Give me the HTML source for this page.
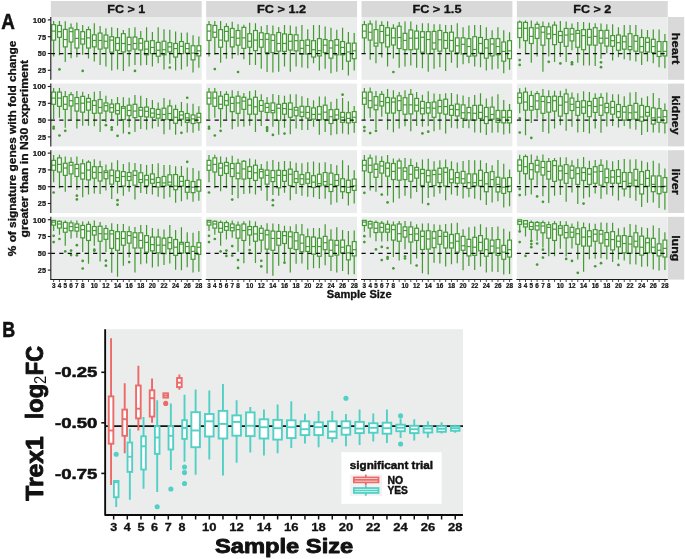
<!DOCTYPE html>
<html><head><meta charset="utf-8"><title>Figure</title>
<style>html,body{margin:0;padding:0;background:#fff;}body{width:685px;height:559px;overflow:hidden;font-family:"Liberation Sans", sans-serif;}svg{display:block;will-change:transform;transform:translateZ(0);}</style>
</head><body>
<svg width="685" height="559" viewBox="0 0 685 559" font-family='"Liberation Sans", sans-serif' fill="#111">
<style>text{stroke:#111;stroke-width:0.3px;stroke-linejoin:round;paint-order:stroke}.t2{stroke-width:0.55px}.t3{stroke-width:0.9px}.t0{stroke-width:0.22px}.t1{stroke-width:0.42px}.tn{stroke-width:0}</style>
<rect x="50.8" y="1.0" width="150.9" height="16" fill="#d9d9d9"/>
<text x="126.25" y="12.7" text-anchor="middle" font-size="10.6" font-weight="bold" textLength="37.9" lengthAdjust="spacingAndGlyphs">FC &gt; 1</text>
<rect x="206.15" y="1.0" width="150.9" height="16" fill="#d9d9d9"/>
<text x="281.6" y="12.7" text-anchor="middle" font-size="10.6" font-weight="bold" textLength="49.0" lengthAdjust="spacingAndGlyphs">FC &gt; 1.2</text>
<rect x="361.5" y="1.0" width="150.9" height="16" fill="#d9d9d9"/>
<text x="436.95" y="12.7" text-anchor="middle" font-size="10.6" font-weight="bold" textLength="49.0" lengthAdjust="spacingAndGlyphs">FC &gt; 1.5</text>
<rect x="516.85" y="1.0" width="150.9" height="16" fill="#d9d9d9"/>
<text x="592.3" y="12.7" text-anchor="middle" font-size="10.6" font-weight="bold" textLength="37.9" lengthAdjust="spacingAndGlyphs">FC &gt; 2</text>
<rect x="668.0" y="17" width="16.2" height="62.8" fill="#d9d9d9"/>
<text transform="translate(672.0,48.4) rotate(90)" text-anchor="middle" font-size="10.6" font-weight="bold" textLength="31.7" lengthAdjust="spacingAndGlyphs">heart</text>
<rect x="50.8" y="17" width="150.9" height="62.8" fill="#ebecec"/>
<rect x="206.15" y="17" width="150.9" height="62.8" fill="#ebecec"/>
<rect x="361.5" y="17" width="150.9" height="62.8" fill="#ebecec"/>
<rect x="516.85" y="17" width="150.9" height="62.8" fill="#ebecec"/>
<rect x="668.0" y="83.6" width="16.2" height="62.8" fill="#d9d9d9"/>
<text transform="translate(672.0,115) rotate(90)" text-anchor="middle" font-size="10.6" font-weight="bold" textLength="39.2" lengthAdjust="spacingAndGlyphs">kidney</text>
<rect x="50.8" y="83.6" width="150.9" height="62.8" fill="#ebecec"/>
<rect x="206.15" y="83.6" width="150.9" height="62.8" fill="#ebecec"/>
<rect x="361.5" y="83.6" width="150.9" height="62.8" fill="#ebecec"/>
<rect x="516.85" y="83.6" width="150.9" height="62.8" fill="#ebecec"/>
<rect x="668.0" y="150.2" width="16.2" height="62.8" fill="#d9d9d9"/>
<text transform="translate(672.0,181.6) rotate(90)" text-anchor="middle" font-size="10.6" font-weight="bold" textLength="26.2" lengthAdjust="spacingAndGlyphs">liver</text>
<rect x="50.8" y="150.2" width="150.9" height="62.8" fill="#ebecec"/>
<rect x="206.15" y="150.2" width="150.9" height="62.8" fill="#ebecec"/>
<rect x="361.5" y="150.2" width="150.9" height="62.8" fill="#ebecec"/>
<rect x="516.85" y="150.2" width="150.9" height="62.8" fill="#ebecec"/>
<rect x="668.0" y="216.8" width="16.2" height="62.8" fill="#d9d9d9"/>
<text transform="translate(672.0,248.2) rotate(90)" text-anchor="middle" font-size="10.6" font-weight="bold" textLength="26.0" lengthAdjust="spacingAndGlyphs">lung</text>
<rect x="50.8" y="216.8" width="150.9" height="62.8" fill="#ebecec"/>
<rect x="206.15" y="216.8" width="150.9" height="62.8" fill="#ebecec"/>
<rect x="361.5" y="216.8" width="150.9" height="62.8" fill="#ebecec"/>
<rect x="516.85" y="216.8" width="150.9" height="62.8" fill="#ebecec"/>
<g stroke="#429a32" stroke-width="1.2" fill="none"><path d="M53.65 20.95V24.67M53.65 40.11V56.46"/><rect x="51.75" y="24.67" width="3.8" height="15.45" fill="#fff"/><path d="M51.75 31.09H55.55"/><path d="M59.46 20.95V25.46M59.46 37.29V55.33"/><rect x="57.56" y="25.46" width="3.8" height="11.84" fill="#fff"/><path d="M57.56 31.66H61.36"/><path d="M65.27 21.28V29.4M65.27 46.88V62.1"/><rect x="63.37" y="29.4" width="3.8" height="17.47" fill="#fff"/><path d="M63.37 39.55H67.17"/><path d="M71.07 23.54V28.05M71.07 42.03V58.15"/><rect x="69.17" y="28.05" width="3.8" height="13.98" fill="#fff"/><path d="M69.17 31.66H72.97"/><path d="M76.88 22.41V29.63M76.88 48V57.36"/><rect x="74.98" y="29.63" width="3.8" height="18.38" fill="#fff"/><path d="M74.98 38.42H78.78"/><path d="M82.69 24.89V31.66M82.69 44.06V54.77"/><rect x="80.79" y="31.66" width="3.8" height="12.4" fill="#fff"/><path d="M80.79 38.98H84.59"/><path d="M88.5 26.58V29.63M88.5 48V58.49"/><rect x="86.6" y="29.63" width="3.8" height="18.38" fill="#fff"/><path d="M86.6 37.86H90.4"/><path d="M94.31 23.2V34.81M94.31 46.88V61.53"/><rect x="92.41" y="34.81" width="3.8" height="12.06" fill="#fff"/><path d="M92.41 40.45H96.21"/><path d="M100.11 26.02V33.12M100.11 49.13V64.91"/><rect x="98.21" y="33.12" width="3.8" height="16.01" fill="#fff"/><path d="M98.21 40.45H102.01"/><path d="M105.92 28.27V35.04M105.92 48V66.61"/><rect x="104.02" y="35.04" width="3.8" height="12.97" fill="#fff"/><path d="M104.02 41.24H107.82"/><path d="M111.73 27.37V36.73M111.73 52.17V70.55"/><rect x="109.83" y="36.73" width="3.8" height="15.45" fill="#fff"/><path d="M109.83 40.11H113.63"/><path d="M117.54 28.05V37.63M117.54 50.26V69.42"/><rect x="115.64" y="37.63" width="3.8" height="12.63" fill="#fff"/><path d="M115.64 43.49H119.44"/><path d="M123.35 29.97V33.69M123.35 51.95V71.11"/><rect x="121.45" y="33.69" width="3.8" height="18.26" fill="#fff"/><path d="M121.45 43.49H125.25"/><path d="M129.15 28.05V37.29M129.15 50.82V66.61"/><rect x="127.25" y="37.29" width="3.8" height="13.53" fill="#fff"/><path d="M127.25 44.62H131.05"/><path d="M134.96 27.37V37.07M134.96 49.13V64.91"/><rect x="133.06" y="37.07" width="3.8" height="12.06" fill="#fff"/><path d="M133.06 43.49H136.86"/><path d="M140.77 31.09V38.65M140.77 50.03V65.48"/><rect x="138.87" y="38.65" width="3.8" height="11.39" fill="#fff"/><path d="M138.87 43.16H142.67"/><path d="M146.58 27.15V41.24M146.58 54.77V64.91"/><rect x="144.68" y="41.24" width="3.8" height="13.53" fill="#fff"/><path d="M144.68 49.13H148.48"/><path d="M152.39 31.88V40.68M152.39 53.64V66.61"/><rect x="150.49" y="40.68" width="3.8" height="12.97" fill="#fff"/><path d="M150.49 47.44H154.29"/><path d="M158.19 27.37V42.37M158.19 56.23V63.22"/><rect x="156.29" y="42.37" width="3.8" height="13.87" fill="#fff"/><path d="M156.29 50.26H160.09"/><path d="M164 29.18V41.24M164 54.77V69.42"/><rect x="162.1" y="41.24" width="3.8" height="13.53" fill="#fff"/><path d="M162.1 49.69H165.9"/><path d="M169.81 29.63V42.7M169.81 51.95V63.79"/><rect x="167.91" y="42.7" width="3.8" height="9.24" fill="#fff"/><path d="M167.91 46.88H171.71"/><path d="M175.62 31.43V43.49M175.62 57.02V70.55"/><rect x="173.72" y="43.49" width="3.8" height="13.53" fill="#fff"/><path d="M173.72 48.57H177.52"/><path d="M181.43 32.78V41.58M181.43 53.64V69.42"/><rect x="179.53" y="41.58" width="3.8" height="12.06" fill="#fff"/><path d="M179.53 46.31H183.33"/><path d="M187.23 32.56V43.49M187.23 53.08V66.61"/><rect x="185.33" y="43.49" width="3.8" height="9.58" fill="#fff"/><path d="M185.33 48.57H189.13"/><path d="M193.04 35.26V45.75M193.04 59.84V72.47"/><rect x="191.14" y="45.75" width="3.8" height="14.09" fill="#fff"/><path d="M191.14 53.08H194.94"/><path d="M198.85 36.39V45.75M198.85 55.9V67.73"/><rect x="196.95" y="45.75" width="3.8" height="10.15" fill="#fff"/><path d="M196.95 50.82H200.75"/></g>
<g fill="#429a32"><circle cx="59.46" cy="69.42" r="1.35"/><circle cx="82.69" cy="70.89" r="1.35"/><circle cx="134.96" cy="70.89" r="1.35"/><circle cx="169.81" cy="67.51" r="1.35"/></g>
<path d="M50.8 53.5H201.7" stroke="#0c0c0c" stroke-width="1.25" stroke-dasharray="4.2 4.25" fill="none"/>
<g stroke="#429a32" stroke-width="1.2" fill="none"><path d="M209 20.95V24.67M209 40.45V56.46"/><rect x="207.1" y="24.67" width="3.8" height="15.78" fill="#fff"/><path d="M207.1 31.09H210.9"/><path d="M214.81 20.95V25.46M214.81 37.29V54.77"/><rect x="212.91" y="25.46" width="3.8" height="11.84" fill="#fff"/><path d="M212.91 32.22H216.71"/><path d="M220.62 20.95V29.63M220.62 47.21V62.66"/><rect x="218.72" y="29.63" width="3.8" height="17.59" fill="#fff"/><path d="M218.72 40.11H222.52"/><path d="M226.42 23.2V26.58M226.42 41.01V58.71"/><rect x="224.52" y="26.58" width="3.8" height="14.43" fill="#fff"/><path d="M224.52 31.43H228.32"/><path d="M232.23 21.74V28.5M232.23 46.88V58.71"/><rect x="230.33" y="28.5" width="3.8" height="18.38" fill="#fff"/><path d="M230.33 37.29H234.13"/><path d="M238.04 24.33V30.53M238.04 45.18V55.33"/><rect x="236.14" y="30.53" width="3.8" height="14.66" fill="#fff"/><path d="M236.14 38.2H239.94"/><path d="M243.85 24.67V27.37M243.85 48.34V59.28"/><rect x="241.95" y="27.37" width="3.8" height="20.97" fill="#fff"/><path d="M241.95 37.86H245.75"/><path d="M249.66 22.64V33.69M249.66 47.21V64.91"/><rect x="247.76" y="33.69" width="3.8" height="13.53" fill="#fff"/><path d="M247.76 41.24H251.56"/><path d="M255.46 23.2V30.53M255.46 50.6V64.91"/><rect x="253.56" y="30.53" width="3.8" height="20.07" fill="#fff"/><path d="M253.56 40.11H257.36"/><path d="M261.27 26.24V32.78M261.27 47.21V68.86"/><rect x="259.37" y="32.78" width="3.8" height="14.43" fill="#fff"/><path d="M259.37 39.55H263.17"/><path d="M267.08 25.12V33.69M267.08 52.51V72.02"/><rect x="265.18" y="33.69" width="3.8" height="18.83" fill="#fff"/><path d="M265.18 39.32H268.98"/><path d="M272.89 25.46V34.81M272.89 52.51V72.47"/><rect x="270.99" y="34.81" width="3.8" height="17.7" fill="#fff"/><path d="M270.99 40.45H274.79"/><path d="M278.7 26.92V32.56M278.7 51.16V71.68"/><rect x="276.8" y="32.56" width="3.8" height="18.6" fill="#fff"/><path d="M276.8 43.49H280.6"/><path d="M284.5 25.12V33.91M284.5 51.39V66.61"/><rect x="282.6" y="33.91" width="3.8" height="17.47" fill="#fff"/><path d="M282.6 43.49H286.4"/><path d="M290.31 25.46V34.47M290.31 50.03V71.68"/><rect x="288.41" y="34.47" width="3.8" height="15.56" fill="#fff"/><path d="M288.41 41.24H292.21"/><path d="M296.12 26.58V34.81M296.12 50.82V66.61"/><rect x="294.22" y="34.81" width="3.8" height="16.01" fill="#fff"/><path d="M294.22 40.68H298.02"/><path d="M301.93 24.89V40.45M301.93 54.2V67.51"/><rect x="300.03" y="40.45" width="3.8" height="13.75" fill="#fff"/><path d="M300.03 48.34H303.83"/><path d="M307.74 29.18V39.89M307.74 53.98V68.3"/><rect x="305.84" y="39.89" width="3.8" height="14.09" fill="#fff"/><path d="M305.84 45.41H309.64"/><path d="M313.54 25.12V40.68M313.54 57.02V63.22"/><rect x="311.64" y="40.68" width="3.8" height="16.35" fill="#fff"/><path d="M311.64 49.69H315.44"/><path d="M319.35 25.12V38.65M319.35 55.9V70.55"/><rect x="317.45" y="38.65" width="3.8" height="17.25" fill="#fff"/><path d="M317.45 50.6H321.25"/><path d="M325.16 26.58V39.55M325.16 52.51V68.86"/><rect x="323.26" y="39.55" width="3.8" height="12.97" fill="#fff"/><path d="M323.26 45.18H327.06"/><path d="M330.97 27.71V40.68M330.97 58.15V73.37"/><rect x="329.07" y="40.68" width="3.8" height="17.47" fill="#fff"/><path d="M329.07 48H332.87"/><path d="M336.78 29.63V39.55M336.78 54.77V71.68"/><rect x="334.88" y="39.55" width="3.8" height="15.22" fill="#fff"/><path d="M334.88 45.18H338.68"/><path d="M342.58 27.71V41.58M342.58 54.77V69.99"/><rect x="340.68" y="41.58" width="3.8" height="13.19" fill="#fff"/><path d="M340.68 47.44H344.48"/><path d="M348.39 31.88V43.16M348.39 61.19V75.62"/><rect x="346.49" y="43.16" width="3.8" height="18.04" fill="#fff"/><path d="M346.49 51.95H350.29"/><path d="M354.2 33.01V43.16M354.2 58.71V70.55"/><rect x="352.3" y="43.16" width="3.8" height="15.56" fill="#fff"/><path d="M352.3 50.82H356.1"/></g>
<g fill="#429a32"><circle cx="214.81" cy="69.09" r="1.35"/><circle cx="238.04" cy="72.02" r="1.35"/></g>
<path d="M206.15 53.5H357.05" stroke="#0c0c0c" stroke-width="1.25" stroke-dasharray="4.2 4.25" fill="none"/>
<g stroke="#429a32" stroke-width="1.2" fill="none"><path d="M364.35 20.95V24.67M364.35 37.86V53.08"/><rect x="362.45" y="24.67" width="3.8" height="13.19" fill="#fff"/><path d="M362.45 31.09H366.25"/><path d="M370.16 20.61V23.99M370.16 40.11V59.84"/><rect x="368.26" y="23.99" width="3.8" height="16.12" fill="#fff"/><path d="M368.26 32.22H372.06"/><path d="M375.97 20.38V29.63M375.97 46.09V63.22"/><rect x="374.07" y="29.63" width="3.8" height="16.46" fill="#fff"/><path d="M374.07 43.16H377.87"/><path d="M381.77 21.28V25.46M381.77 42.7V57.59"/><rect x="379.87" y="25.46" width="3.8" height="17.25" fill="#fff"/><path d="M379.87 31.43H383.67"/><path d="M387.58 21.28V27.71M387.58 46.88V66.61"/><rect x="385.68" y="27.71" width="3.8" height="19.17" fill="#fff"/><path d="M385.68 35.26H389.48"/><path d="M393.39 24.33V28.27M393.39 44.96V58.49"/><rect x="391.49" y="28.27" width="3.8" height="16.69" fill="#fff"/><path d="M391.49 37.86H395.29"/><path d="M399.2 22.07V26.24M399.2 48.57V67.73"/><rect x="397.3" y="26.24" width="3.8" height="22.32" fill="#fff"/><path d="M397.3 37.52H401.1"/><path d="M405.01 21.51V33.35M405.01 49.69V66.38"/><rect x="403.11" y="33.35" width="3.8" height="16.35" fill="#fff"/><path d="M403.11 40.45H406.91"/><path d="M410.81 21.51V29.97M410.81 49.69V65.48"/><rect x="408.91" y="29.97" width="3.8" height="19.73" fill="#fff"/><path d="M408.91 38.2H412.71"/><path d="M416.62 24.67V31.09M416.62 49.13V67.73"/><rect x="414.72" y="31.09" width="3.8" height="18.04" fill="#fff"/><path d="M414.72 38.2H418.52"/><path d="M422.43 23.2V31.66M422.43 52.17V68.3"/><rect x="420.53" y="31.66" width="3.8" height="20.52" fill="#fff"/><path d="M420.53 37.29H424.33"/><path d="M428.24 23.2V31.66M428.24 53.64V71.68"/><rect x="426.34" y="31.66" width="3.8" height="21.98" fill="#fff"/><path d="M426.34 39.55H430.14"/><path d="M434.05 24.33V31.43M434.05 49.13V68.86"/><rect x="432.15" y="31.43" width="3.8" height="17.7" fill="#fff"/><path d="M432.15 42.93H435.95"/><path d="M439.85 24.33V30.53M439.85 51.16V67.17"/><rect x="437.95" y="30.53" width="3.8" height="20.63" fill="#fff"/><path d="M437.95 39.77H441.75"/><path d="M445.66 24.89V32.56M445.66 48.34V70.89"/><rect x="443.76" y="32.56" width="3.8" height="15.78" fill="#fff"/><path d="M443.76 40.45H447.56"/><path d="M451.47 25.12V32.22M451.47 51.16V62.66"/><rect x="449.57" y="32.22" width="3.8" height="18.94" fill="#fff"/><path d="M449.57 40.45H453.37"/><path d="M457.28 23.2V37.86M457.28 52.85V67.73"/><rect x="455.38" y="37.86" width="3.8" height="14.99" fill="#fff"/><path d="M455.38 45.75H459.18"/><path d="M463.09 27.37V37.86M463.09 53.98V64.13"/><rect x="461.19" y="37.86" width="3.8" height="16.12" fill="#fff"/><path d="M461.19 44.28H464.99"/><path d="M468.89 25.46V38.65M468.89 56.23V63.22"/><rect x="466.99" y="38.65" width="3.8" height="17.59" fill="#fff"/><path d="M466.99 46.54H470.79"/><path d="M474.7 24.89V36.73M474.7 55.9V66.61"/><rect x="472.8" y="36.73" width="3.8" height="19.17" fill="#fff"/><path d="M472.8 49.47H476.6"/><path d="M480.51 25.12V37.52M480.51 53.08V67.17"/><rect x="478.61" y="37.52" width="3.8" height="15.56" fill="#fff"/><path d="M478.61 43.49H482.41"/><path d="M486.32 27.37V39.55M486.32 58.15V70.55"/><rect x="484.42" y="39.55" width="3.8" height="18.6" fill="#fff"/><path d="M484.42 48H488.22"/><path d="M492.13 30.3V38.65M492.13 55.9V69.42"/><rect x="490.23" y="38.65" width="3.8" height="17.25" fill="#fff"/><path d="M490.23 44.06H494.03"/><path d="M497.93 27.15V38.65M497.93 54.77V68.86"/><rect x="496.03" y="38.65" width="3.8" height="16.12" fill="#fff"/><path d="M496.03 46.54H499.83"/><path d="M503.74 30.3V42.03M503.74 61.19V73.37"/><rect x="501.84" y="42.03" width="3.8" height="19.17" fill="#fff"/><path d="M501.84 51.39H505.64"/><path d="M509.55 32.22V40.68M509.55 58.71V69.76"/><rect x="507.65" y="40.68" width="3.8" height="18.04" fill="#fff"/><path d="M507.65 50.82H511.45"/></g>
<g fill="#429a32"><circle cx="393.39" cy="72.02" r="1.35"/></g>
<path d="M361.5 53.5H512.4" stroke="#0c0c0c" stroke-width="1.25" stroke-dasharray="4.2 4.25" fill="none"/>
<g stroke="#429a32" stroke-width="1.2" fill="none"><path d="M519.7 20.38V22.07M519.7 37.52V48.57"/><rect x="517.8" y="22.07" width="3.8" height="15.45" fill="#fff"/><path d="M517.8 28.27H521.6"/><path d="M525.51 20.38V22.41M525.51 40.68V54.2"/><rect x="523.61" y="22.41" width="3.8" height="18.26" fill="#fff"/><path d="M523.61 28.27H527.41"/><path d="M531.32 20.38V27.71M531.32 43.49V62.66"/><rect x="529.42" y="27.71" width="3.8" height="15.78" fill="#fff"/><path d="M529.42 36.39H533.22"/><path d="M537.12 21.51V24.33M537.12 38.42V56.46"/><rect x="535.22" y="24.33" width="3.8" height="14.09" fill="#fff"/><path d="M535.22 28.05H539.02"/><path d="M542.93 21.51V26.58M542.93 45.18V71.68"/><rect x="541.03" y="26.58" width="3.8" height="18.6" fill="#fff"/><path d="M541.03 32.22H544.83"/><path d="M548.74 22.41V26.92M548.74 38.65V56.46"/><rect x="546.84" y="26.92" width="3.8" height="11.72" fill="#fff"/><path d="M546.84 33.91H550.64"/><path d="M554.55 21.51V25.12M554.55 44.62V62.1"/><rect x="552.65" y="25.12" width="3.8" height="19.5" fill="#fff"/><path d="M552.65 34.47H556.45"/><path d="M560.36 20.95V31.43M560.36 42.37V57.02"/><rect x="558.46" y="31.43" width="3.8" height="10.94" fill="#fff"/><path d="M558.46 35.6H562.26"/><path d="M566.16 21.51V28.5M566.16 46.31V62.1"/><rect x="564.26" y="28.5" width="3.8" height="17.81" fill="#fff"/><path d="M564.26 35.04H568.06"/><path d="M571.97 23.54V28.5M571.97 40.9V50.26"/><rect x="570.07" y="28.5" width="3.8" height="12.4" fill="#fff"/><path d="M570.07 34.14H573.87"/><path d="M577.78 22.07V30.53M577.78 47.21V62.66"/><rect x="575.88" y="30.53" width="3.8" height="16.69" fill="#fff"/><path d="M575.88 33.35H579.68"/><path d="M583.59 22.07V29.63M583.59 49.69V65.48"/><rect x="581.69" y="29.63" width="3.8" height="20.07" fill="#fff"/><path d="M581.69 35.6H585.49"/><path d="M589.4 22.64V29.4M589.4 44.96V65.48"/><rect x="587.5" y="29.4" width="3.8" height="15.56" fill="#fff"/><path d="M587.5 37.29H591.3"/><path d="M595.2 23.2V27.71M595.2 45.18V66.04"/><rect x="593.3" y="27.71" width="3.8" height="17.47" fill="#fff"/><path d="M593.3 36.39H597.1"/><path d="M601.01 23.54V30.53M601.01 43.16V58.71"/><rect x="599.11" y="30.53" width="3.8" height="12.63" fill="#fff"/><path d="M599.11 38.2H602.91"/><path d="M606.82 24.33V30.3M606.82 46.09V53.3"/><rect x="604.92" y="30.3" width="3.8" height="15.78" fill="#fff"/><path d="M604.92 38.2H608.72"/><path d="M612.63 24.33V35.6M612.63 46.31V60.4"/><rect x="610.73" y="35.6" width="3.8" height="10.71" fill="#fff"/><path d="M610.73 40.68H614.53"/><path d="M618.44 27.15V35.04M618.44 50.26V57.36"/><rect x="616.54" y="35.04" width="3.8" height="15.22" fill="#fff"/><path d="M616.54 42.7H620.34"/><path d="M624.24 24.89V36.17M624.24 49.13V59.28"/><rect x="622.34" y="36.17" width="3.8" height="12.97" fill="#fff"/><path d="M622.34 41.8H626.14"/><path d="M630.05 25.12V33.69M630.05 49.69V60.4"/><rect x="628.15" y="33.69" width="3.8" height="16.01" fill="#fff"/><path d="M628.15 46.54H631.95"/><path d="M635.86 25.12V35.6M635.86 51.16V61.53"/><rect x="633.96" y="35.6" width="3.8" height="15.56" fill="#fff"/><path d="M633.96 41.24H637.76"/><path d="M641.67 29.18V37.52M641.67 52.17V64.91"/><rect x="639.77" y="37.52" width="3.8" height="14.66" fill="#fff"/><path d="M639.77 46.54H643.57"/><path d="M647.48 29.97V37.86M647.48 51.95V61.53"/><rect x="645.58" y="37.86" width="3.8" height="14.09" fill="#fff"/><path d="M645.58 42.37H649.38"/><path d="M653.28 29.4V39.32M653.28 52.51V63.22"/><rect x="651.38" y="39.32" width="3.8" height="13.19" fill="#fff"/><path d="M651.38 46.54H655.18"/><path d="M659.09 29.4V41.58M659.09 56.46V67.17"/><rect x="657.19" y="41.58" width="3.8" height="14.88" fill="#fff"/><path d="M657.19 51.39H660.99"/><path d="M664.9 33.91V41.58M664.9 55.9V68.3"/><rect x="663" y="41.58" width="3.8" height="14.32" fill="#fff"/><path d="M663 51.39H666.8"/></g>
<g fill="#429a32"><circle cx="519.7" cy="60.07" r="1.35"/><circle cx="519.7" cy="64.91" r="1.35"/><circle cx="548.74" cy="61.87" r="1.35"/><circle cx="560.36" cy="63.45" r="1.35"/><circle cx="571.97" cy="62.32" r="1.35"/><circle cx="571.97" cy="64.13" r="1.35"/><circle cx="601.01" cy="62.32" r="1.35"/><circle cx="601.01" cy="67.17" r="1.35"/></g>
<path d="M516.85 53.5H667.75" stroke="#0c0c0c" stroke-width="1.25" stroke-dasharray="4.2 4.25" fill="none"/>
<g stroke="#429a32" stroke-width="1.2" fill="none"><path d="M53.65 87.95V92.12M53.65 104.29V118.95"/><rect x="51.75" y="92.12" width="3.8" height="12.18" fill="#fff"/><path d="M51.75 98.09H55.55"/><path d="M59.46 87.95V92.12M59.46 106.32V117.82"/><rect x="57.56" y="92.12" width="3.8" height="14.21" fill="#fff"/><path d="M57.56 98.09H61.36"/><path d="M65.27 90.99V96.63M65.27 109.37V127.74"/><rect x="63.37" y="96.63" width="3.8" height="12.74" fill="#fff"/><path d="M63.37 104.29H67.17"/><path d="M71.07 91.89V94.71M71.07 105.98V119.51"/><rect x="69.17" y="94.71" width="3.8" height="11.27" fill="#fff"/><path d="M69.17 100.69H72.97"/><path d="M76.88 90.99V97.53M76.88 111.06V128.53"/><rect x="74.98" y="97.53" width="3.8" height="13.53" fill="#fff"/><path d="M74.98 103.73H78.78"/><path d="M82.69 91.67V96.4M82.69 112.18V125.71"/><rect x="80.79" y="96.4" width="3.8" height="15.78" fill="#fff"/><path d="M80.79 103.17H84.59"/><path d="M88.5 93.92V98.43M88.5 110.16V125.71"/><rect x="86.6" y="98.43" width="3.8" height="11.72" fill="#fff"/><path d="M86.6 102.04H90.4"/><path d="M94.31 91.67V100.69M94.31 113.31V126.28"/><rect x="92.41" y="100.69" width="3.8" height="12.63" fill="#fff"/><path d="M92.41 105.42H96.21"/><path d="M100.11 90.99V99.56M100.11 113.09V131.91"/><rect x="98.21" y="99.56" width="3.8" height="13.53" fill="#fff"/><path d="M98.21 107.45H102.01"/><path d="M105.92 95.84V102.94M105.92 111.06V122.33"/><rect x="104.02" y="102.94" width="3.8" height="8.12" fill="#fff"/><path d="M104.02 105.65H107.82"/><path d="M111.73 98.88V104.07M111.73 112.18V120.08"/><rect x="109.83" y="104.07" width="3.8" height="8.12" fill="#fff"/><path d="M109.83 107.68H113.63"/><path d="M117.54 96.97V103.73M117.54 113.88V125.71"/><rect x="115.64" y="103.73" width="3.8" height="10.15" fill="#fff"/><path d="M115.64 110.49H119.44"/><path d="M123.35 97.3V106.55M123.35 119.51V133.61"/><rect x="121.45" y="106.55" width="3.8" height="12.97" fill="#fff"/><path d="M121.45 108.24H125.25"/><path d="M129.15 97.75V105.2M129.15 115.57V127.4"/><rect x="127.25" y="105.2" width="3.8" height="10.37" fill="#fff"/><path d="M127.25 110.49H131.05"/><path d="M134.96 95.05V104.29M134.96 117.6V131.91"/><rect x="133.06" y="104.29" width="3.8" height="13.3" fill="#fff"/><path d="M133.06 111.06H136.86"/><path d="M140.77 95.84V107.45M140.77 116.47V129.1"/><rect x="138.87" y="107.45" width="3.8" height="9.02" fill="#fff"/><path d="M138.87 110.16H142.67"/><path d="M146.58 98.09V107.11M146.58 116.92V129.66"/><rect x="144.68" y="107.11" width="3.8" height="9.81" fill="#fff"/><path d="M144.68 111.28H148.48"/><path d="M152.39 100.01V108.58M152.39 117.26V128.53"/><rect x="150.49" y="108.58" width="3.8" height="8.68" fill="#fff"/><path d="M150.49 113.09H154.29"/><path d="M158.19 102.6V109.37M158.19 118.16V126.84"/><rect x="156.29" y="109.37" width="3.8" height="8.79" fill="#fff"/><path d="M156.29 114.44H160.09"/><path d="M164 98.09V108.24M164 119.51V134.17"/><rect x="162.1" y="108.24" width="3.8" height="11.27" fill="#fff"/><path d="M162.1 114.44H165.9"/><path d="M169.81 99.78V105.98M169.81 119.51V129.66"/><rect x="167.91" y="105.98" width="3.8" height="13.53" fill="#fff"/><path d="M167.91 113.54H171.71"/><path d="M175.62 104.86V109.37M175.62 123.23V134.73"/><rect x="173.72" y="109.37" width="3.8" height="13.87" fill="#fff"/><path d="M173.72 117.26H177.52"/><path d="M181.43 102.04V111.62M181.43 119.17V126.28"/><rect x="179.53" y="111.62" width="3.8" height="7.55" fill="#fff"/><path d="M179.53 115H183.33"/><path d="M187.23 103.17V113.54M187.23 122.33V132.48"/><rect x="185.33" y="113.54" width="3.8" height="8.79" fill="#fff"/><path d="M185.33 117.82H189.13"/><path d="M193.04 103.73V115M193.04 123.46V132.7"/><rect x="191.14" y="115" width="3.8" height="8.46" fill="#fff"/><path d="M191.14 118.95H194.94"/><path d="M198.85 106.32V113.31M198.85 122.67V130.79"/><rect x="196.95" y="113.31" width="3.8" height="9.36" fill="#fff"/><path d="M196.95 117.26H200.75"/></g>
<g fill="#429a32"><circle cx="53.65" cy="126.84" r="1.35"/><circle cx="53.65" cy="128.53" r="1.35"/><circle cx="59.46" cy="135.52" r="1.35"/><circle cx="65.27" cy="130.79" r="1.35"/><circle cx="105.92" cy="125.15" r="1.35"/><circle cx="111.73" cy="127.4" r="1.35"/><circle cx="111.73" cy="129.66" r="1.35"/><circle cx="117.54" cy="135.86" r="1.35"/><circle cx="129.15" cy="133.04" r="1.35"/><circle cx="181.43" cy="132.82" r="1.35"/><circle cx="187.23" cy="97.75" r="1.35"/></g>
<path d="M50.8 120.1H201.7" stroke="#0c0c0c" stroke-width="1.25" stroke-dasharray="4.2 4.25" fill="none"/>
<g stroke="#429a32" stroke-width="1.2" fill="none"><path d="M209 87.95V92.12M209 104.07V118.95"/><rect x="207.1" y="92.12" width="3.8" height="11.95" fill="#fff"/><path d="M207.1 98.09H210.9"/><path d="M214.81 87.95V92.12M214.81 106.32V117.82"/><rect x="212.91" y="92.12" width="3.8" height="14.21" fill="#fff"/><path d="M212.91 98.09H216.71"/><path d="M220.62 90.99V96.18M220.62 108.58V127.4"/><rect x="218.72" y="96.18" width="3.8" height="12.4" fill="#fff"/><path d="M218.72 104.29H222.52"/><path d="M226.42 91.33V94.37M226.42 105.2V119.51"/><rect x="224.52" y="94.37" width="3.8" height="10.82" fill="#fff"/><path d="M224.52 100.69H228.32"/><path d="M232.23 90.2V97.3M232.23 111.62V129.32"/><rect x="230.33" y="97.3" width="3.8" height="14.32" fill="#fff"/><path d="M230.33 103.39H234.13"/><path d="M238.04 90.99V96.18M238.04 113.31V126.84"/><rect x="236.14" y="96.18" width="3.8" height="17.14" fill="#fff"/><path d="M236.14 102.94H239.94"/><path d="M243.85 93.02V97.3M243.85 109.37V126.84"/><rect x="241.95" y="97.3" width="3.8" height="12.06" fill="#fff"/><path d="M241.95 101.14H245.75"/><path d="M249.66 90.99V99.22M249.66 114.21V125.71"/><rect x="247.76" y="99.22" width="3.8" height="14.99" fill="#fff"/><path d="M247.76 105.2H251.56"/><path d="M255.46 90.2V97.3M255.46 114.21V131.91"/><rect x="253.56" y="97.3" width="3.8" height="16.91" fill="#fff"/><path d="M253.56 106.77H257.36"/><path d="M261.27 94.15V100.69M261.27 111.28V125.94"/><rect x="259.37" y="100.69" width="3.8" height="10.6" fill="#fff"/><path d="M259.37 105.42H263.17"/><path d="M267.08 96.97V103.39M267.08 112.41V120.08"/><rect x="265.18" y="103.39" width="3.8" height="9.02" fill="#fff"/><path d="M265.18 107.45H268.98"/><path d="M272.89 93.92V102.94M272.89 112.75V126.84"/><rect x="270.99" y="102.94" width="3.8" height="9.81" fill="#fff"/><path d="M270.99 110.49H274.79"/><path d="M278.7 95.05V104.29M278.7 120.3V134.73"/><rect x="276.8" y="104.29" width="3.8" height="16.01" fill="#fff"/><path d="M276.8 108.24H280.6"/><path d="M284.5 95.84V103.39M284.5 114.21V127.74"/><rect x="282.6" y="103.39" width="3.8" height="10.82" fill="#fff"/><path d="M282.6 108.58H286.4"/><path d="M290.31 94.15V102.94M290.31 117.26V134.17"/><rect x="288.41" y="102.94" width="3.8" height="14.32" fill="#fff"/><path d="M288.41 109.37H292.21"/><path d="M296.12 94.15V107.45M296.12 115.79V128.53"/><rect x="294.22" y="107.45" width="3.8" height="8.34" fill="#fff"/><path d="M294.22 110.16H298.02"/><path d="M301.93 96.18V106.32M301.93 116.47V130"/><rect x="300.03" y="106.32" width="3.8" height="10.15" fill="#fff"/><path d="M300.03 112.18H303.83"/><path d="M307.74 98.09V106.55M307.74 118.16V130"/><rect x="305.84" y="106.55" width="3.8" height="11.61" fill="#fff"/><path d="M305.84 112.41H309.64"/><path d="M313.54 100.35V107.9M313.54 119.17V126.84"/><rect x="311.64" y="107.9" width="3.8" height="11.27" fill="#fff"/><path d="M311.64 114.44H315.44"/><path d="M319.35 96.4V106.55M319.35 119.85V134.73"/><rect x="317.45" y="106.55" width="3.8" height="13.3" fill="#fff"/><path d="M317.45 114.21H321.25"/><path d="M325.16 96.4V105.2M325.16 119.51V131.91"/><rect x="323.26" y="105.2" width="3.8" height="14.32" fill="#fff"/><path d="M323.26 112.18H327.06"/><path d="M330.97 101.81V109.7M330.97 123.46V135.3"/><rect x="329.07" y="109.7" width="3.8" height="13.75" fill="#fff"/><path d="M329.07 116.69H332.87"/><path d="M336.78 98.66V109.37M336.78 119.17V134.17"/><rect x="334.88" y="109.37" width="3.8" height="9.81" fill="#fff"/><path d="M334.88 115H338.68"/><path d="M342.58 98.09V112.41M342.58 122.33V133.61"/><rect x="340.68" y="112.41" width="3.8" height="9.92" fill="#fff"/><path d="M340.68 117.26H344.48"/><path d="M348.39 101.14V112.75M348.39 122.9V134.51"/><rect x="346.49" y="112.75" width="3.8" height="10.15" fill="#fff"/><path d="M346.49 118.39H350.29"/><path d="M354.2 105.98V111.62M354.2 122.33V132.7"/><rect x="352.3" y="111.62" width="3.8" height="10.71" fill="#fff"/><path d="M352.3 117.26H356.1"/></g>
<g fill="#429a32"><circle cx="209" cy="126.84" r="1.35"/><circle cx="209" cy="128.53" r="1.35"/><circle cx="214.81" cy="135.52" r="1.35"/><circle cx="220.62" cy="130.79" r="1.35"/><circle cx="267.08" cy="127.4" r="1.35"/><circle cx="267.08" cy="129.1" r="1.35"/><circle cx="267.08" cy="130.79" r="1.35"/><circle cx="272.89" cy="134.96" r="1.35"/><circle cx="284.5" cy="133.61" r="1.35"/><circle cx="342.58" cy="94.71" r="1.35"/></g>
<path d="M206.15 120.1H357.05" stroke="#0c0c0c" stroke-width="1.25" stroke-dasharray="4.2 4.25" fill="none"/>
<g stroke="#429a32" stroke-width="1.2" fill="none"><path d="M364.35 87.95V92.12M364.35 104.29V120.08"/><rect x="362.45" y="92.12" width="3.8" height="12.18" fill="#fff"/><path d="M362.45 98.09H366.25"/><path d="M370.16 87.38V92.12M370.16 107.68V117.82"/><rect x="368.26" y="92.12" width="3.8" height="15.56" fill="#fff"/><path d="M368.26 100.69H372.06"/><path d="M375.97 90.99V96.63M375.97 109.7V129.1"/><rect x="374.07" y="96.63" width="3.8" height="13.08" fill="#fff"/><path d="M374.07 105.2H377.87"/><path d="M381.77 90.99V94.37M381.77 105.98V116.69"/><rect x="379.87" y="94.37" width="3.8" height="11.61" fill="#fff"/><path d="M379.87 101.47H383.67"/><path d="M387.58 89.07V97.53M387.58 113.09V129.66"/><rect x="385.68" y="97.53" width="3.8" height="15.56" fill="#fff"/><path d="M385.68 102.6H389.48"/><path d="M393.39 90.2V98.09M393.39 113.09V132.25"/><rect x="391.49" y="98.09" width="3.8" height="14.99" fill="#fff"/><path d="M391.49 102.04H395.29"/><path d="M399.2 92.12V95.84M399.2 110.49V128.53"/><rect x="397.3" y="95.84" width="3.8" height="14.66" fill="#fff"/><path d="M397.3 100.69H401.1"/><path d="M405.01 90.2V97.75M405.01 114.21V126.28"/><rect x="403.11" y="97.75" width="3.8" height="16.46" fill="#fff"/><path d="M403.11 104.86H406.91"/><path d="M410.81 89.07V94.37M410.81 113.88V131.35"/><rect x="408.91" y="94.37" width="3.8" height="19.5" fill="#fff"/><path d="M408.91 104.86H412.71"/><path d="M416.62 92.12V98.43M416.62 111.06V125.94"/><rect x="414.72" y="98.43" width="3.8" height="12.63" fill="#fff"/><path d="M414.72 105.2H418.52"/><path d="M422.43 94.71V101.47M422.43 113.88V126.84"/><rect x="420.53" y="101.47" width="3.8" height="12.4" fill="#fff"/><path d="M420.53 108.24H424.33"/><path d="M428.24 91.33V102.6M428.24 113.09V126.28"/><rect x="426.34" y="102.6" width="3.8" height="10.48" fill="#fff"/><path d="M426.34 107.9H430.14"/><path d="M434.05 93.58V102.04M434.05 117.26V131.35"/><rect x="432.15" y="102.04" width="3.8" height="15.22" fill="#fff"/><path d="M432.15 108.24H435.95"/><path d="M439.85 93.92V100.35M439.85 113.09V129.66"/><rect x="437.95" y="100.35" width="3.8" height="12.74" fill="#fff"/><path d="M437.95 106.55H441.75"/><path d="M445.66 93.24V99.22M445.66 114.21V133.61"/><rect x="443.76" y="99.22" width="3.8" height="14.99" fill="#fff"/><path d="M443.76 106.55H447.56"/><path d="M451.47 93.02V105.42M451.47 115.34V127.74"/><rect x="449.57" y="105.42" width="3.8" height="9.92" fill="#fff"/><path d="M449.57 109.37H453.37"/><path d="M457.28 94.15V104.07M457.28 115.91V128.53"/><rect x="455.38" y="104.07" width="3.8" height="11.84" fill="#fff"/><path d="M455.38 109.7H459.18"/><path d="M463.09 95.5V104.86M463.09 118.39V127.97"/><rect x="461.19" y="104.86" width="3.8" height="13.53" fill="#fff"/><path d="M461.19 112.75H464.99"/><path d="M468.89 96.97V107.45M468.89 120.08V128.19"/><rect x="466.99" y="107.45" width="3.8" height="12.63" fill="#fff"/><path d="M466.99 112.75H470.79"/><path d="M474.7 95.05V105.42M474.7 120.08V132.48"/><rect x="472.8" y="105.42" width="3.8" height="14.66" fill="#fff"/><path d="M472.8 113.31H476.6"/><path d="M480.51 93.24V105.2M480.51 118.39V132.7"/><rect x="478.61" y="105.2" width="3.8" height="13.19" fill="#fff"/><path d="M478.61 112.41H482.41"/><path d="M486.32 98.43V107.45M486.32 123.46V134.96"/><rect x="484.42" y="107.45" width="3.8" height="16.01" fill="#fff"/><path d="M484.42 116.69H488.22"/><path d="M492.13 96.4V107.11M492.13 119.17V132.7"/><rect x="490.23" y="107.11" width="3.8" height="12.06" fill="#fff"/><path d="M490.23 114.44H494.03"/><path d="M497.93 94.15V110.49M497.93 122.33V132.48"/><rect x="496.03" y="110.49" width="3.8" height="11.84" fill="#fff"/><path d="M496.03 118.39H499.83"/><path d="M503.74 100.01V110.49M503.74 122.9V134.51"/><rect x="501.84" y="110.49" width="3.8" height="12.4" fill="#fff"/><path d="M501.84 117.26H505.64"/><path d="M509.55 104.07V110.49M509.55 122.9V133.61"/><rect x="507.65" y="110.49" width="3.8" height="12.4" fill="#fff"/><path d="M507.65 117.26H511.45"/></g>
<g fill="#429a32"><circle cx="364.35" cy="127.18" r="1.35"/><circle cx="364.35" cy="130.79" r="1.35"/><circle cx="370.16" cy="133.04" r="1.35"/><circle cx="375.97" cy="130.79" r="1.35"/><circle cx="422.43" cy="133.38" r="1.35"/><circle cx="428.24" cy="131.69" r="1.35"/></g>
<path d="M361.5 120.1H512.4" stroke="#0c0c0c" stroke-width="1.25" stroke-dasharray="4.2 4.25" fill="none"/>
<g stroke="#429a32" stroke-width="1.2" fill="none"><path d="M519.7 88.28V93.02M519.7 103.17V113.31"/><rect x="517.8" y="93.02" width="3.8" height="10.15" fill="#fff"/><path d="M517.8 97.53H521.6"/><path d="M525.51 87.38V92.12M525.51 110.16V135.3"/><rect x="523.61" y="92.12" width="3.8" height="18.04" fill="#fff"/><path d="M523.61 102.04H527.41"/><path d="M531.32 90.76V95.5M531.32 110.16V122.9"/><rect x="529.42" y="95.5" width="3.8" height="14.66" fill="#fff"/><path d="M529.42 106.55H533.22"/><path d="M537.12 90.99V93.58M537.12 109.37V118.39"/><rect x="535.22" y="93.58" width="3.8" height="15.78" fill="#fff"/><path d="M535.22 100.91H539.02"/><path d="M542.93 89.07V96.4M542.93 113.31V131.91"/><rect x="541.03" y="96.4" width="3.8" height="16.91" fill="#fff"/><path d="M541.03 101.47H544.83"/><path d="M548.74 90.2V96.63M548.74 112.18V133.38"/><rect x="546.84" y="96.63" width="3.8" height="15.56" fill="#fff"/><path d="M546.84 102.6H550.64"/><path d="M554.55 90.76V96.18M554.55 111.06V128.53"/><rect x="552.65" y="96.18" width="3.8" height="14.88" fill="#fff"/><path d="M552.65 100.69H556.45"/><path d="M560.36 90.76V96.63M560.36 116.13V125.15"/><rect x="558.46" y="96.63" width="3.8" height="19.5" fill="#fff"/><path d="M558.46 105.2H562.26"/><path d="M566.16 88.74V93.92M566.16 113.54V130.79"/><rect x="564.26" y="93.92" width="3.8" height="19.62" fill="#fff"/><path d="M564.26 102.04H568.06"/><path d="M571.97 92.46V98.09M571.97 110.49V126.84"/><rect x="570.07" y="98.09" width="3.8" height="12.4" fill="#fff"/><path d="M570.07 104.29H573.87"/><path d="M577.78 93.24V101.47M577.78 115.34V132.48"/><rect x="575.88" y="101.47" width="3.8" height="13.87" fill="#fff"/><path d="M575.88 107.45H579.68"/><path d="M583.59 91.33V100.69M583.59 113.31V131.91"/><rect x="581.69" y="100.69" width="3.8" height="12.63" fill="#fff"/><path d="M581.69 107.11H585.49"/><path d="M589.4 91.89V101.47M589.4 116.69V133.61"/><rect x="587.5" y="101.47" width="3.8" height="15.22" fill="#fff"/><path d="M587.5 105.65H591.3"/><path d="M595.2 93.24V98.43M595.2 112.41V128.53"/><rect x="593.3" y="98.43" width="3.8" height="13.98" fill="#fff"/><path d="M593.3 106.55H597.1"/><path d="M601.01 93.24V97.53M601.01 115.34V132.7"/><rect x="599.11" y="97.53" width="3.8" height="17.81" fill="#fff"/><path d="M599.11 105.2H602.91"/><path d="M606.82 92.46V103.39M606.82 112.75V126.62"/><rect x="604.92" y="103.39" width="3.8" height="9.36" fill="#fff"/><path d="M604.92 107.45H608.72"/><path d="M612.63 94.15V101.47M612.63 114.21V125.94"/><rect x="610.73" y="101.47" width="3.8" height="12.74" fill="#fff"/><path d="M610.73 107.45H614.53"/><path d="M618.44 94.15V104.52M618.44 117.26V127.4"/><rect x="616.54" y="104.52" width="3.8" height="12.74" fill="#fff"/><path d="M616.54 111.62H620.34"/><path d="M624.24 96.18V106.55M624.24 120.08V125.94"/><rect x="622.34" y="106.55" width="3.8" height="13.53" fill="#fff"/><path d="M622.34 112.18H626.14"/><path d="M630.05 92.46V105.42M630.05 119.51V128.87"/><rect x="628.15" y="105.42" width="3.8" height="14.09" fill="#fff"/><path d="M628.15 112.75H631.95"/><path d="M635.86 92.12V103.39M635.86 119.17V129.66"/><rect x="633.96" y="103.39" width="3.8" height="15.78" fill="#fff"/><path d="M633.96 112.18H637.76"/><path d="M641.67 97.75V105.42M641.67 121.2V134.96"/><rect x="639.77" y="105.42" width="3.8" height="15.78" fill="#fff"/><path d="M639.77 116.92H643.57"/><path d="M647.48 96.18V106.55M647.48 116.13V131.91"/><rect x="645.58" y="106.55" width="3.8" height="9.58" fill="#fff"/><path d="M645.58 112.41H649.38"/><path d="M653.28 93.02V107.9M653.28 124.02V132.48"/><rect x="651.38" y="107.9" width="3.8" height="16.12" fill="#fff"/><path d="M651.38 117.82H655.18"/><path d="M659.09 98.09V108.58M659.09 122.33V132.7"/><rect x="657.19" y="108.58" width="3.8" height="13.75" fill="#fff"/><path d="M657.19 117.26H660.99"/><path d="M664.9 103.39V110.49M664.9 122.9V133.61"/><rect x="663" y="110.49" width="3.8" height="12.4" fill="#fff"/><path d="M663 116.69H666.8"/></g>
<g fill="#429a32"><circle cx="519.7" cy="118.39" r="1.35"/><circle cx="519.7" cy="132.48" r="1.35"/><circle cx="531.32" cy="137.89" r="1.35"/></g>
<path d="M516.85 120.1H667.75" stroke="#0c0c0c" stroke-width="1.25" stroke-dasharray="4.2 4.25" fill="none"/>
<g stroke="#429a32" stroke-width="1.2" fill="none"><path d="M53.65 155.07V160.37M53.65 170.29V182.13"/><rect x="51.75" y="160.37" width="3.8" height="9.92" fill="#fff"/><path d="M51.75 165.22H55.55"/><path d="M59.46 154.74V157.89M59.46 171.98V188.33"/><rect x="57.56" y="157.89" width="3.8" height="14.09" fill="#fff"/><path d="M57.56 164.43H61.36"/><path d="M65.27 156.54V163.3M65.27 175.37V191.71"/><rect x="63.37" y="163.3" width="3.8" height="12.06" fill="#fff"/><path d="M63.37 168.04H67.17"/><path d="M71.07 157.33V162.4M71.07 173.9V186.64"/><rect x="69.17" y="162.4" width="3.8" height="11.5" fill="#fff"/><path d="M69.17 165.22H72.97"/><path d="M76.88 156.54V164.43M76.88 176.49V190.02"/><rect x="74.98" y="164.43" width="3.8" height="12.06" fill="#fff"/><path d="M74.98 168.6H78.78"/><path d="M82.69 159.24V163.75M82.69 179.09V197.35"/><rect x="80.79" y="163.75" width="3.8" height="15.33" fill="#fff"/><path d="M80.79 173.11H84.59"/><path d="M88.5 160.15V162.18M88.5 179.88V194.53"/><rect x="86.6" y="162.18" width="3.8" height="17.7" fill="#fff"/><path d="M86.6 170.07H90.4"/><path d="M94.31 159.24V166.69M94.31 178.18V193.4"/><rect x="92.41" y="166.69" width="3.8" height="11.5" fill="#fff"/><path d="M92.41 172.32H96.21"/><path d="M100.11 160.71V166.69M100.11 181V193.97"/><rect x="98.21" y="166.69" width="3.8" height="14.32" fill="#fff"/><path d="M98.21 172.55H102.01"/><path d="M105.92 164.43V170.86M105.92 178.75V190.59"/><rect x="104.02" y="170.86" width="3.8" height="7.89" fill="#fff"/><path d="M104.02 172.55H107.82"/><path d="M111.73 162.4V170.07M111.73 184.16V199.04"/><rect x="109.83" y="170.07" width="3.8" height="14.09" fill="#fff"/><path d="M109.83 175.7H113.63"/><path d="M117.54 160.37V170.86M117.54 181.34V193.4"/><rect x="115.64" y="170.86" width="3.8" height="10.48" fill="#fff"/><path d="M115.64 177.62H119.44"/><path d="M123.35 164.09V171.65M123.35 186.08V195.66"/><rect x="121.45" y="171.65" width="3.8" height="14.43" fill="#fff"/><path d="M121.45 176.49H125.25"/><path d="M129.15 162.18V172.55M129.15 180.44V191.71"/><rect x="127.25" y="172.55" width="3.8" height="7.89" fill="#fff"/><path d="M127.25 176.49H131.05"/><path d="M134.96 162.97V170.86M134.96 185.17V199.61"/><rect x="133.06" y="170.86" width="3.8" height="14.32" fill="#fff"/><path d="M133.06 175.37H136.86"/><path d="M140.77 164.09V172.77M140.77 182.47V193.07"/><rect x="138.87" y="172.77" width="3.8" height="9.7" fill="#fff"/><path d="M138.87 179.54H142.67"/><path d="M146.58 164.88V175.37M146.58 185.85V193.97"/><rect x="144.68" y="175.37" width="3.8" height="10.48" fill="#fff"/><path d="M144.68 179.88H148.48"/><path d="M152.39 164.09V173.9M152.39 183.26V194.53"/><rect x="150.49" y="173.9" width="3.8" height="9.36" fill="#fff"/><path d="M150.49 179.31H154.29"/><path d="M158.19 163.3V177.62M158.19 186.98V196.79"/><rect x="156.29" y="177.62" width="3.8" height="9.36" fill="#fff"/><path d="M156.29 182.47H160.09"/><path d="M164 164.88V176.49M164 186.08V198.7"/><rect x="162.1" y="176.49" width="3.8" height="9.58" fill="#fff"/><path d="M162.1 182.92H165.9"/><path d="M169.81 164.88V174.8M169.81 185.17V197.35"/><rect x="167.91" y="174.8" width="3.8" height="10.37" fill="#fff"/><path d="M167.91 182.13H171.71"/><path d="M175.62 166.35V174.58M175.62 189.68V202.76"/><rect x="173.72" y="174.58" width="3.8" height="15.11" fill="#fff"/><path d="M173.72 186.08H177.52"/><path d="M181.43 166.01V176.49M181.43 186.08V201.3"/><rect x="179.53" y="176.49" width="3.8" height="9.58" fill="#fff"/><path d="M179.53 181.34H183.33"/><path d="M187.23 167.47V180.44M187.23 192.28V199.61"/><rect x="185.33" y="180.44" width="3.8" height="11.84" fill="#fff"/><path d="M185.33 187.2H189.13"/><path d="M193.04 168.04V181.57M193.04 192.62V201.63"/><rect x="191.14" y="181.57" width="3.8" height="11.05" fill="#fff"/><path d="M191.14 187.2H194.94"/><path d="M198.85 170.86V179.88M198.85 191.15V200.73"/><rect x="196.95" y="179.88" width="3.8" height="11.27" fill="#fff"/><path d="M196.95 186.64H200.75"/></g>
<g fill="#429a32"><circle cx="53.65" cy="192.5" r="1.35"/><circle cx="76.88" cy="195.66" r="1.35"/><circle cx="76.88" cy="199.38" r="1.35"/><circle cx="117.54" cy="200.17" r="1.35"/><circle cx="117.54" cy="204.68" r="1.35"/><circle cx="187.23" cy="161.84" r="1.35"/></g>
<path d="M50.8 186.7H201.7" stroke="#0c0c0c" stroke-width="1.25" stroke-dasharray="4.2 4.25" fill="none"/>
<g stroke="#429a32" stroke-width="1.2" fill="none"><path d="M209 155.07V160.37M209 170.29V182.13"/><rect x="207.1" y="160.37" width="3.8" height="9.92" fill="#fff"/><path d="M207.1 165.22H210.9"/><path d="M214.81 154.74V157.89M214.81 171.98V188.33"/><rect x="212.91" y="157.89" width="3.8" height="14.09" fill="#fff"/><path d="M212.91 164.43H216.71"/><path d="M220.62 156.54V163.3M220.62 175.37V191.15"/><rect x="218.72" y="163.3" width="3.8" height="12.06" fill="#fff"/><path d="M218.72 168.04H222.52"/><path d="M226.42 157.33V162.4M226.42 173.45V188.33"/><rect x="224.52" y="162.4" width="3.8" height="11.05" fill="#fff"/><path d="M224.52 165.78H228.32"/><path d="M232.23 155.64V163.53M232.23 176.49V195.1"/><rect x="230.33" y="163.53" width="3.8" height="12.97" fill="#fff"/><path d="M230.33 168.6H234.13"/><path d="M238.04 158.79V163.3M238.04 178.75V198.25"/><rect x="236.14" y="163.3" width="3.8" height="15.45" fill="#fff"/><path d="M236.14 173.11H239.94"/><path d="M243.85 159.92V161.27M243.85 179.09V193.97"/><rect x="241.95" y="161.27" width="3.8" height="17.81" fill="#fff"/><path d="M241.95 168.94H245.75"/><path d="M249.66 158.46V166.69M249.66 178.41V193.4"/><rect x="247.76" y="166.69" width="3.8" height="11.72" fill="#fff"/><path d="M247.76 171.42H251.56"/><path d="M255.46 159.58V165.22M255.46 180.44V194.53"/><rect x="253.56" y="165.22" width="3.8" height="15.22" fill="#fff"/><path d="M253.56 172.77H257.36"/><path d="M261.27 164.09V169.39M261.27 177.96V190.81"/><rect x="259.37" y="169.39" width="3.8" height="8.57" fill="#fff"/><path d="M259.37 171.65H263.17"/><path d="M267.08 161.27V170.07M267.08 184.16V200.73"/><rect x="265.18" y="170.07" width="3.8" height="14.09" fill="#fff"/><path d="M265.18 175.37H268.98"/><path d="M272.89 159.92V170.52M272.89 181.57V195.1"/><rect x="270.99" y="170.52" width="3.8" height="11.05" fill="#fff"/><path d="M270.99 177.62H274.79"/><path d="M278.7 161.84V170.29M278.7 187.77V195.66"/><rect x="276.8" y="170.29" width="3.8" height="17.47" fill="#fff"/><path d="M276.8 175.37H280.6"/><path d="M284.5 161.05V170.52M284.5 181.34V192.84"/><rect x="282.6" y="170.52" width="3.8" height="10.82" fill="#fff"/><path d="M282.6 175.37H286.4"/><path d="M290.31 161.27V169.17M290.31 185.51V200.17"/><rect x="288.41" y="169.17" width="3.8" height="16.35" fill="#fff"/><path d="M288.41 174.24H292.21"/><path d="M296.12 162.63V171.42M296.12 182.47V193.97"/><rect x="294.22" y="171.42" width="3.8" height="11.05" fill="#fff"/><path d="M294.22 178.75H298.02"/><path d="M301.93 163.3V174.58M301.93 184.39V195.66"/><rect x="300.03" y="174.58" width="3.8" height="9.81" fill="#fff"/><path d="M300.03 178.75H303.83"/><path d="M307.74 162.18V172.77M307.74 183.26V196.79"/><rect x="305.84" y="172.77" width="3.8" height="10.48" fill="#fff"/><path d="M305.84 179.09H309.64"/><path d="M313.54 161.5V175.7M313.54 187.43V197.35"/><rect x="311.64" y="175.7" width="3.8" height="11.72" fill="#fff"/><path d="M311.64 182.13H315.44"/><path d="M319.35 162.63V174.24M319.35 185.85V199.04"/><rect x="317.45" y="174.24" width="3.8" height="11.61" fill="#fff"/><path d="M317.45 183.6H321.25"/><path d="M325.16 162.18V172.55M325.16 185.17V198.7"/><rect x="323.26" y="172.55" width="3.8" height="12.63" fill="#fff"/><path d="M323.26 181.57H327.06"/><path d="M330.97 164.09V173.11M330.97 191.49V204.68"/><rect x="329.07" y="173.11" width="3.8" height="18.38" fill="#fff"/><path d="M329.07 184.39H332.87"/><path d="M336.78 165.22V174.58M336.78 185.51V202.42"/><rect x="334.88" y="174.58" width="3.8" height="10.94" fill="#fff"/><path d="M334.88 180.44H338.68"/><path d="M342.58 160.37V178.75M342.58 191.71V199.04"/><rect x="340.68" y="178.75" width="3.8" height="12.97" fill="#fff"/><path d="M340.68 186.64H344.48"/><path d="M348.39 165.22V180.21M348.39 192.62V205.47"/><rect x="346.49" y="180.21" width="3.8" height="12.4" fill="#fff"/><path d="M346.49 187.2H350.29"/><path d="M354.2 170.29V179.09M354.2 190.36V203.55"/><rect x="352.3" y="179.09" width="3.8" height="11.27" fill="#fff"/><path d="M352.3 185.85H356.1"/></g>
<g fill="#429a32"><circle cx="209" cy="192.5" r="1.35"/><circle cx="232.23" cy="199.61" r="1.35"/><circle cx="272.89" cy="200.17" r="1.35"/><circle cx="272.89" cy="205.24" r="1.35"/></g>
<path d="M206.15 186.7H357.05" stroke="#0c0c0c" stroke-width="1.25" stroke-dasharray="4.2 4.25" fill="none"/>
<g stroke="#429a32" stroke-width="1.2" fill="none"><path d="M364.35 155.07V160.37M364.35 170.86V186.08"/><rect x="362.45" y="160.37" width="3.8" height="10.48" fill="#fff"/><path d="M362.45 165.22H366.25"/><path d="M370.16 154.51V158.12M370.16 172.32V190.59"/><rect x="368.26" y="158.12" width="3.8" height="14.21" fill="#fff"/><path d="M368.26 165.22H372.06"/><path d="M375.97 155.41V164.09M375.97 177.28V191.71"/><rect x="374.07" y="164.09" width="3.8" height="13.19" fill="#fff"/><path d="M374.07 169.39H377.87"/><path d="M381.77 156.2V161.5M381.77 173.11V186.08"/><rect x="379.87" y="161.5" width="3.8" height="11.61" fill="#fff"/><path d="M379.87 166.01H383.67"/><path d="M387.58 155.07V162.97M387.58 176.16V195.66"/><rect x="385.68" y="162.97" width="3.8" height="13.19" fill="#fff"/><path d="M385.68 168.26H389.48"/><path d="M393.39 158.46V163.53M393.39 179.54V202.42"/><rect x="391.49" y="163.53" width="3.8" height="16.01" fill="#fff"/><path d="M391.49 171.42H395.29"/><path d="M399.2 158.46V161.05M399.2 180.21V198.48"/><rect x="397.3" y="161.05" width="3.8" height="19.17" fill="#fff"/><path d="M397.3 168.04H401.1"/><path d="M405.01 158.12V167.81M405.01 179.54V195.66"/><rect x="403.11" y="167.81" width="3.8" height="11.72" fill="#fff"/><path d="M403.11 171.2H406.91"/><path d="M410.81 158.79V165.56M410.81 181.34V198.48"/><rect x="408.91" y="165.56" width="3.8" height="15.78" fill="#fff"/><path d="M408.91 174.24H412.71"/><path d="M416.62 162.18V167.47M416.62 178.18V191.94"/><rect x="414.72" y="167.47" width="3.8" height="10.71" fill="#fff"/><path d="M414.72 170.07H418.52"/><path d="M422.43 159.58V169.39M422.43 185.51V203.55"/><rect x="420.53" y="169.39" width="3.8" height="16.12" fill="#fff"/><path d="M420.53 173.45H424.33"/><path d="M428.24 158.79V170.29M428.24 182.13V197.91"/><rect x="426.34" y="170.29" width="3.8" height="11.84" fill="#fff"/><path d="M426.34 175.7H430.14"/><path d="M434.05 161.27V170.29M434.05 185.51V196.79"/><rect x="432.15" y="170.29" width="3.8" height="15.22" fill="#fff"/><path d="M432.15 174.58H435.95"/><path d="M439.85 160.15V168.26M439.85 182.69V193.4"/><rect x="437.95" y="168.26" width="3.8" height="14.43" fill="#fff"/><path d="M437.95 174.24H441.75"/><path d="M445.66 159.58V167.81M445.66 186.08V200.17"/><rect x="443.76" y="167.81" width="3.8" height="18.26" fill="#fff"/><path d="M443.76 172.32H447.56"/><path d="M451.47 161.27V169.73M451.47 182.69V194.53"/><rect x="449.57" y="169.73" width="3.8" height="12.97" fill="#fff"/><path d="M449.57 179.09H453.37"/><path d="M457.28 162.4V172.55M457.28 183.26V195.66"/><rect x="455.38" y="172.55" width="3.8" height="10.71" fill="#fff"/><path d="M455.38 177.62H459.18"/><path d="M463.09 161.05V171.42M463.09 183.26V198.48"/><rect x="461.19" y="171.42" width="3.8" height="11.84" fill="#fff"/><path d="M461.19 178.75H464.99"/><path d="M468.89 159.92V173.9M468.89 188.33V197.35"/><rect x="466.99" y="173.9" width="3.8" height="14.43" fill="#fff"/><path d="M466.99 182.69H470.79"/><path d="M474.7 160.37V173.9M474.7 185.85V198.7"/><rect x="472.8" y="173.9" width="3.8" height="11.95" fill="#fff"/><path d="M472.8 182.69H476.6"/><path d="M480.51 160.37V170.29M480.51 186.08V200.17"/><rect x="478.61" y="170.29" width="3.8" height="15.78" fill="#fff"/><path d="M478.61 180.44H482.41"/><path d="M486.32 162.97V172.55M486.32 191.71V205.02"/><rect x="484.42" y="172.55" width="3.8" height="19.17" fill="#fff"/><path d="M484.42 183.82H488.22"/><path d="M492.13 165.22V171.65M492.13 186.64V202.42"/><rect x="490.23" y="171.65" width="3.8" height="14.99" fill="#fff"/><path d="M490.23 179.54H494.03"/><path d="M497.93 159.92V177.28M497.93 191.94V201.3"/><rect x="496.03" y="177.28" width="3.8" height="14.66" fill="#fff"/><path d="M496.03 184.39H499.83"/><path d="M503.74 163.75V178.18M503.74 193.4V207.5"/><rect x="501.84" y="178.18" width="3.8" height="15.22" fill="#fff"/><path d="M501.84 187.2H505.64"/><path d="M509.55 169.39V177.62M509.55 191.71V206.37"/><rect x="507.65" y="177.62" width="3.8" height="14.09" fill="#fff"/><path d="M507.65 186.08H511.45"/></g>
<g fill="#429a32"><circle cx="364.35" cy="192.84" r="1.35"/><circle cx="381.77" cy="194.53" r="1.35"/><circle cx="387.58" cy="202.42" r="1.35"/><circle cx="428.24" cy="204.11" r="1.35"/></g>
<path d="M361.5 186.7H512.4" stroke="#0c0c0c" stroke-width="1.25" stroke-dasharray="4.2 4.25" fill="none"/>
<g stroke="#429a32" stroke-width="1.2" fill="none"><path d="M519.7 154.74V159.92M519.7 171.2V184.39"/><rect x="517.8" y="159.92" width="3.8" height="11.27" fill="#fff"/><path d="M517.8 165.22H521.6"/><path d="M525.51 154.51V156.54M525.51 173.68V195.66"/><rect x="523.61" y="156.54" width="3.8" height="17.14" fill="#fff"/><path d="M523.61 166.69H527.41"/><path d="M531.32 154.51V163.53M531.32 179.09V194.53"/><rect x="529.42" y="163.53" width="3.8" height="15.56" fill="#fff"/><path d="M529.42 169.73H533.22"/><path d="M537.12 155.64V160.37M537.12 171.98V185.51"/><rect x="535.22" y="160.37" width="3.8" height="11.61" fill="#fff"/><path d="M535.22 165.22H539.02"/><path d="M542.93 154.51V161.5M542.93 175.03V196.22"/><rect x="541.03" y="161.5" width="3.8" height="13.53" fill="#fff"/><path d="M541.03 167.47H544.83"/><path d="M548.74 158.12V161.5M548.74 179.09V202.99"/><rect x="546.84" y="161.5" width="3.8" height="17.59" fill="#fff"/><path d="M546.84 171.42H550.64"/><path d="M554.55 158.12V160.71M554.55 181.34V195.66"/><rect x="552.65" y="160.71" width="3.8" height="20.63" fill="#fff"/><path d="M552.65 165.56H556.45"/><path d="M560.36 157.33V166.01M560.36 179.88V195.1"/><rect x="558.46" y="166.01" width="3.8" height="13.87" fill="#fff"/><path d="M558.46 170.86H562.26"/><path d="M566.16 157.33V164.66M566.16 183.26V201.63"/><rect x="564.26" y="164.66" width="3.8" height="18.6" fill="#fff"/><path d="M564.26 173.45H568.06"/><path d="M571.97 160.37V166.01M571.97 178.18V192.62"/><rect x="570.07" y="166.01" width="3.8" height="12.18" fill="#fff"/><path d="M570.07 170.29H573.87"/><path d="M577.78 158.79V167.81M577.78 184.39V204.11"/><rect x="575.88" y="167.81" width="3.8" height="16.57" fill="#fff"/><path d="M575.88 173.68H579.68"/><path d="M583.59 156.99V167.81M583.59 180.44V198.48"/><rect x="581.69" y="167.81" width="3.8" height="12.63" fill="#fff"/><path d="M581.69 172.55H585.49"/><path d="M589.4 160.71V168.6M589.4 184.39V197.35"/><rect x="587.5" y="168.6" width="3.8" height="15.78" fill="#fff"/><path d="M587.5 174.24H591.3"/><path d="M595.2 159.92V166.69M595.2 183.26V193.4"/><rect x="593.3" y="166.69" width="3.8" height="16.57" fill="#fff"/><path d="M593.3 171.98H597.1"/><path d="M601.01 159.24V165.22M601.01 185.17V198.7"/><rect x="599.11" y="165.22" width="3.8" height="19.95" fill="#fff"/><path d="M599.11 171.42H602.91"/><path d="M606.82 160.15V168.94M606.82 182.69V194.53"/><rect x="604.92" y="168.94" width="3.8" height="13.75" fill="#fff"/><path d="M604.92 177.62H608.72"/><path d="M612.63 161.27V170.52M612.63 183.26V195.66"/><rect x="610.73" y="170.52" width="3.8" height="12.74" fill="#fff"/><path d="M610.73 177.06H614.53"/><path d="M618.44 159.92V169.73M618.44 183.26V200.51"/><rect x="616.54" y="169.73" width="3.8" height="13.53" fill="#fff"/><path d="M616.54 176.49H620.34"/><path d="M624.24 159.02V172.55M624.24 188.9V196.45"/><rect x="622.34" y="172.55" width="3.8" height="16.35" fill="#fff"/><path d="M622.34 181.34H626.14"/><path d="M630.05 159.58V172.55M630.05 185.85V197.91"/><rect x="628.15" y="172.55" width="3.8" height="13.3" fill="#fff"/><path d="M628.15 183.26H631.95"/><path d="M635.86 159.24V169.39M635.86 186.08V200.73"/><rect x="633.96" y="169.39" width="3.8" height="16.69" fill="#fff"/><path d="M633.96 180.21H637.76"/><path d="M641.67 160.71V171.65M641.67 193.97V206.93"/><rect x="639.77" y="171.65" width="3.8" height="22.32" fill="#fff"/><path d="M639.77 184.39H643.57"/><path d="M647.48 162.18V170.52M647.48 186.3V202.76"/><rect x="645.58" y="170.52" width="3.8" height="15.78" fill="#fff"/><path d="M645.58 178.41H649.38"/><path d="M653.28 160.71V175.93M653.28 191.71V202.42"/><rect x="651.38" y="175.93" width="3.8" height="15.78" fill="#fff"/><path d="M651.38 184.39H655.18"/><path d="M659.09 163.3V175.93M659.09 193.74V208.06"/><rect x="657.19" y="175.93" width="3.8" height="17.81" fill="#fff"/><path d="M657.19 186.64H660.99"/><path d="M664.9 168.6V177.62M664.9 192.28V209.75"/><rect x="663" y="177.62" width="3.8" height="14.66" fill="#fff"/><path d="M663 186.3H666.8"/></g>
<g fill="#429a32"><circle cx="519.7" cy="189.12" r="1.35"/><circle cx="519.7" cy="195.1" r="1.35"/><circle cx="537.12" cy="196.45" r="1.35"/><circle cx="542.93" cy="201.86" r="1.35"/><circle cx="583.59" cy="203.55" r="1.35"/></g>
<path d="M516.85 186.7H667.75" stroke="#0c0c0c" stroke-width="1.25" stroke-dasharray="4.2 4.25" fill="none"/>
<g stroke="#429a32" stroke-width="1.2" fill="none"><path d="M53.65 220.16V220.38M53.65 225.12V231.09"/><rect x="51.75" y="220.38" width="3.8" height="4.74" fill="#fff"/><path d="M51.75 222.07H55.55"/><path d="M59.46 220.38V221.28M59.46 228.05V234.81"/><rect x="57.56" y="221.28" width="3.8" height="6.76" fill="#fff"/><path d="M57.56 223.99H61.36"/><path d="M65.27 220.38V222.41M65.27 232.22V245.75"/><rect x="63.37" y="222.41" width="3.8" height="9.81" fill="#fff"/><path d="M63.37 228.27H67.17"/><path d="M71.07 220.61V222.86M71.07 230.75V238.42"/><rect x="69.17" y="222.86" width="3.8" height="7.89" fill="#fff"/><path d="M69.17 226.58H72.97"/><path d="M76.88 220.61V223.99M76.88 231.09V237.86"/><rect x="74.98" y="223.99" width="3.8" height="7.1" fill="#fff"/><path d="M74.98 227.37H78.78"/><path d="M82.69 221.51V225.46M82.69 237.86V251.95"/><rect x="80.79" y="225.46" width="3.8" height="12.4" fill="#fff"/><path d="M80.79 229.63H84.59"/><path d="M88.5 221.28V224.33M88.5 240.45V263.79"/><rect x="86.6" y="224.33" width="3.8" height="16.12" fill="#fff"/><path d="M86.6 231.09H90.4"/><path d="M94.31 220.61V226.58M94.31 235.04V245.75"/><rect x="92.41" y="226.58" width="3.8" height="8.46" fill="#fff"/><path d="M92.41 230.53H96.21"/><path d="M100.11 222.07V226.24M100.11 241.24V261.53"/><rect x="98.21" y="226.24" width="3.8" height="14.99" fill="#fff"/><path d="M98.21 233.69H102.01"/><path d="M105.92 225.12V228.5M105.92 239.32V251.95"/><rect x="104.02" y="228.5" width="3.8" height="10.82" fill="#fff"/><path d="M104.02 233.91H107.82"/><path d="M111.73 223.2V230.53M111.73 248.34V272.81"/><rect x="109.83" y="230.53" width="3.8" height="17.81" fill="#fff"/><path d="M109.83 233.91H113.63"/><path d="M117.54 223.99V231.66M117.54 250.26V276.75"/><rect x="115.64" y="231.66" width="3.8" height="18.6" fill="#fff"/><path d="M115.64 238.65H119.44"/><path d="M123.35 223.99V231.66M123.35 245.18V265.7"/><rect x="121.45" y="231.66" width="3.8" height="13.53" fill="#fff"/><path d="M121.45 238.42H125.25"/><path d="M129.15 226.24V231.66M129.15 243.16V257.59"/><rect x="127.25" y="231.66" width="3.8" height="11.5" fill="#fff"/><path d="M127.25 235.6H131.05"/><path d="M134.96 226.92V232.78M134.96 248V272.47"/><rect x="133.06" y="232.78" width="3.8" height="15.22" fill="#fff"/><path d="M133.06 237.29H136.86"/><path d="M140.77 225.12V232.78M140.77 248V264.35"/><rect x="138.87" y="232.78" width="3.8" height="15.22" fill="#fff"/><path d="M138.87 240.45H142.67"/><path d="M146.58 225.12V235.6M146.58 252.17V263.45"/><rect x="144.68" y="235.6" width="3.8" height="16.57" fill="#fff"/><path d="M144.68 242.37H148.48"/><path d="M152.39 228.05V237.07M152.39 250.82V267.51"/><rect x="150.49" y="237.07" width="3.8" height="13.75" fill="#fff"/><path d="M150.49 244.62H154.29"/><path d="M158.19 228.84V237.07M158.19 252.85V266.61"/><rect x="156.29" y="237.07" width="3.8" height="15.78" fill="#fff"/><path d="M156.29 245.18H160.09"/><path d="M164 229.4V238.2M164 253.64V264.91"/><rect x="162.1" y="238.2" width="3.8" height="15.45" fill="#fff"/><path d="M162.1 245.18H165.9"/><path d="M169.81 224.89V237.52M169.81 248.79V263.45"/><rect x="167.91" y="237.52" width="3.8" height="11.27" fill="#fff"/><path d="M167.91 242.7H171.71"/><path d="M175.62 229.97V239.55M175.62 255.33V269.76"/><rect x="173.72" y="239.55" width="3.8" height="15.78" fill="#fff"/><path d="M173.72 247.21H177.52"/><path d="M181.43 227.37V242.37M181.43 253.08V270.21"/><rect x="179.53" y="242.37" width="3.8" height="10.71" fill="#fff"/><path d="M179.53 244.06H183.33"/><path d="M187.23 232.22V242.37M187.23 252.85V267.17"/><rect x="185.33" y="242.37" width="3.8" height="10.48" fill="#fff"/><path d="M185.33 246.54H189.13"/><path d="M193.04 232.78V246.54M193.04 259.28V272.47"/><rect x="191.14" y="246.54" width="3.8" height="12.74" fill="#fff"/><path d="M191.14 251.39H194.94"/><path d="M198.85 231.09V242.7M198.85 254.43V271.68"/><rect x="196.95" y="242.7" width="3.8" height="11.72" fill="#fff"/><path d="M196.95 247.21H200.75"/></g>
<g fill="#429a32"><circle cx="53.65" cy="235.83" r="1.35"/><circle cx="53.65" cy="242.03" r="1.35"/><circle cx="59.46" cy="238.98" r="1.35"/><circle cx="65.27" cy="251.39" r="1.35"/><circle cx="71.07" cy="250.6" r="1.35"/><circle cx="71.07" cy="255.11" r="1.35"/><circle cx="76.88" cy="245.18" r="1.35"/><circle cx="76.88" cy="255.33" r="1.35"/><circle cx="82.69" cy="260.97" r="1.35"/><circle cx="82.69" cy="268.52" r="1.35"/><circle cx="94.31" cy="249.69" r="1.35"/><circle cx="94.31" cy="250.82" r="1.35"/><circle cx="105.92" cy="260.63" r="1.35"/><circle cx="105.92" cy="265.7" r="1.35"/><circle cx="129.15" cy="262.1" r="1.35"/></g>
<path d="M50.8 253.3H201.7" stroke="#0c0c0c" stroke-width="1.25" stroke-dasharray="4.2 4.25" fill="none"/>
<g stroke="#429a32" stroke-width="1.2" fill="none"><path d="M209 220.16V220.38M209 225.12V231.09"/><rect x="207.1" y="220.38" width="3.8" height="4.74" fill="#fff"/><path d="M207.1 222.07H210.9"/><path d="M214.81 220.38V221.28M214.81 228.05V234.81"/><rect x="212.91" y="221.28" width="3.8" height="6.76" fill="#fff"/><path d="M212.91 223.99H216.71"/><path d="M220.62 220.38V222.41M220.62 232.22V245.75"/><rect x="218.72" y="222.41" width="3.8" height="9.81" fill="#fff"/><path d="M218.72 228.27H222.52"/><path d="M226.42 220.61V222.64M226.42 230.3V239.55"/><rect x="224.52" y="222.64" width="3.8" height="7.67" fill="#fff"/><path d="M224.52 226.58H228.32"/><path d="M232.23 220.61V223.99M232.23 230.75V237.86"/><rect x="230.33" y="223.99" width="3.8" height="6.76" fill="#fff"/><path d="M230.33 227.71H234.13"/><path d="M238.04 221.51V225.12M238.04 238.2V251.72"/><rect x="236.14" y="225.12" width="3.8" height="13.08" fill="#fff"/><path d="M236.14 229.63H239.94"/><path d="M243.85 221.28V223.99M243.85 240.45V263.22"/><rect x="241.95" y="223.99" width="3.8" height="16.46" fill="#fff"/><path d="M241.95 230.53H245.75"/><path d="M249.66 220.61V226.58M249.66 235.04V245.75"/><rect x="247.76" y="226.58" width="3.8" height="8.46" fill="#fff"/><path d="M247.76 229.63H251.56"/><path d="M255.46 221.51V226.58M255.46 241.24V263"/><rect x="253.56" y="226.58" width="3.8" height="14.66" fill="#fff"/><path d="M253.56 233.91H257.36"/><path d="M261.27 224.89V228.27M261.27 240.11V252.51"/><rect x="259.37" y="228.27" width="3.8" height="11.84" fill="#fff"/><path d="M259.37 233.35H263.17"/><path d="M267.08 223.2V230.3M267.08 249.13V273.6"/><rect x="265.18" y="230.3" width="3.8" height="18.83" fill="#fff"/><path d="M265.18 234.81H268.98"/><path d="M272.89 223.54V231.09M272.89 250.26V275.85"/><rect x="270.99" y="231.09" width="3.8" height="19.17" fill="#fff"/><path d="M270.99 238.42H274.79"/><path d="M278.7 223.99V231.43M278.7 245.18V265.7"/><rect x="276.8" y="231.43" width="3.8" height="13.75" fill="#fff"/><path d="M276.8 238.42H280.6"/><path d="M284.5 225.79V231.66M284.5 243.49V261.53"/><rect x="282.6" y="231.66" width="3.8" height="11.84" fill="#fff"/><path d="M282.6 235.6H286.4"/><path d="M290.31 226.24V231.88M290.31 248.34V272.47"/><rect x="288.41" y="231.88" width="3.8" height="16.46" fill="#fff"/><path d="M288.41 236.73H292.21"/><path d="M296.12 224.33V232.56M296.12 249.47V263.79"/><rect x="294.22" y="232.56" width="3.8" height="16.91" fill="#fff"/><path d="M294.22 240.9H298.02"/><path d="M301.93 223.99V234.81M301.93 251.72V263.45"/><rect x="300.03" y="234.81" width="3.8" height="16.91" fill="#fff"/><path d="M300.03 243.16H303.83"/><path d="M307.74 228.5V236.73M307.74 251.39V269.76"/><rect x="305.84" y="236.73" width="3.8" height="14.66" fill="#fff"/><path d="M305.84 246.54H309.64"/><path d="M313.54 228.05V237.07M313.54 254.2V268.3"/><rect x="311.64" y="237.07" width="3.8" height="17.14" fill="#fff"/><path d="M311.64 246.54H315.44"/><path d="M319.35 228.05V238.2M319.35 256.23V268.3"/><rect x="317.45" y="238.2" width="3.8" height="18.04" fill="#fff"/><path d="M317.45 246.54H321.25"/><path d="M325.16 224.33V236.39M325.16 249.69V265.25"/><rect x="323.26" y="236.39" width="3.8" height="13.3" fill="#fff"/><path d="M323.26 242.7H327.06"/><path d="M330.97 229.18V240.11M330.97 256.23V270.89"/><rect x="329.07" y="240.11" width="3.8" height="16.12" fill="#fff"/><path d="M329.07 250.26H332.87"/><path d="M336.78 227.15V240.45M336.78 255.11V272.47"/><rect x="334.88" y="240.45" width="3.8" height="14.66" fill="#fff"/><path d="M334.88 245.18H338.68"/><path d="M342.58 229.97V240.11M342.58 252.85V270.89"/><rect x="340.68" y="240.11" width="3.8" height="12.74" fill="#fff"/><path d="M340.68 247.21H344.48"/><path d="M348.39 231.09V245.75M348.39 259.84V274.5"/><rect x="346.49" y="245.75" width="3.8" height="14.09" fill="#fff"/><path d="M346.49 252.85H350.29"/><path d="M354.2 230.53V241.58M354.2 255.9V274.27"/><rect x="352.3" y="241.58" width="3.8" height="14.32" fill="#fff"/><path d="M352.3 249.69H356.1"/></g>
<g fill="#429a32"><circle cx="209" cy="235.83" r="1.35"/><circle cx="209" cy="242.03" r="1.35"/><circle cx="214.81" cy="238.98" r="1.35"/><circle cx="220.62" cy="251.39" r="1.35"/><circle cx="226.42" cy="250.6" r="1.35"/><circle cx="226.42" cy="255.9" r="1.35"/><circle cx="232.23" cy="246.09" r="1.35"/><circle cx="232.23" cy="255.56" r="1.35"/><circle cx="238.04" cy="260.07" r="1.35"/><circle cx="238.04" cy="267.96" r="1.35"/><circle cx="249.66" cy="250.03" r="1.35"/><circle cx="249.66" cy="253.08" r="1.35"/><circle cx="261.27" cy="260.74" r="1.35"/><circle cx="261.27" cy="266.38" r="1.35"/><circle cx="284.5" cy="262.66" r="1.35"/></g>
<path d="M206.15 253.3H357.05" stroke="#0c0c0c" stroke-width="1.25" stroke-dasharray="4.2 4.25" fill="none"/>
<g stroke="#429a32" stroke-width="1.2" fill="none"><path d="M364.35 220.16V220.38M364.35 225.46V231.66"/><rect x="362.45" y="220.38" width="3.8" height="5.07" fill="#fff"/><path d="M362.45 222.07H366.25"/><path d="M370.16 220.61V221.51M370.16 228.05V237.52"/><rect x="368.26" y="221.51" width="3.8" height="6.54" fill="#fff"/><path d="M368.26 223.99H372.06"/><path d="M375.97 220.61V222.41M375.97 232.56V241.24"/><rect x="374.07" y="222.41" width="3.8" height="10.15" fill="#fff"/><path d="M374.07 228.27H377.87"/><path d="M381.77 220.95V223.2M381.77 232.22V241.58"/><rect x="379.87" y="223.2" width="3.8" height="9.02" fill="#fff"/><path d="M379.87 227.37H383.67"/><path d="M387.58 220.61V224.33M387.58 232.22V241.24"/><rect x="385.68" y="224.33" width="3.8" height="7.89" fill="#fff"/><path d="M385.68 229.18H389.48"/><path d="M393.39 221.51V225.12M393.39 240.11V257.02"/><rect x="391.49" y="225.12" width="3.8" height="14.99" fill="#fff"/><path d="M391.49 229.63H395.29"/><path d="M399.2 220.95V223.99M399.2 241.24V260.4"/><rect x="397.3" y="223.99" width="3.8" height="17.25" fill="#fff"/><path d="M397.3 233.69H401.1"/><path d="M405.01 220.95V226.92M405.01 237.07V249.13"/><rect x="403.11" y="226.92" width="3.8" height="10.15" fill="#fff"/><path d="M403.11 230.53H406.91"/><path d="M410.81 221.51V226.92M410.81 242.03V264.35"/><rect x="408.91" y="226.92" width="3.8" height="15.11" fill="#fff"/><path d="M408.91 234.47H412.71"/><path d="M416.62 224.33V228.27M416.62 240.45V258.49"/><rect x="414.72" y="228.27" width="3.8" height="12.18" fill="#fff"/><path d="M414.72 233.91H418.52"/><path d="M422.43 223.54V231.09M422.43 249.47V273.14"/><rect x="420.53" y="231.09" width="3.8" height="18.38" fill="#fff"/><path d="M420.53 236.39H424.33"/><path d="M428.24 223.2V230.75M428.24 249.13V274.5"/><rect x="426.34" y="230.75" width="3.8" height="18.38" fill="#fff"/><path d="M426.34 238.98H430.14"/><path d="M434.05 224.33V231.66M434.05 247.67V262.66"/><rect x="432.15" y="231.66" width="3.8" height="16.01" fill="#fff"/><path d="M432.15 238.2H435.95"/><path d="M439.85 224.67V230.53M439.85 244.28V263.45"/><rect x="437.95" y="230.53" width="3.8" height="13.75" fill="#fff"/><path d="M437.95 236.39H441.75"/><path d="M445.66 223.99V232.22M445.66 248V266.38"/><rect x="443.76" y="232.22" width="3.8" height="15.78" fill="#fff"/><path d="M443.76 236.39H447.56"/><path d="M451.47 223.2V234.47M451.47 248V264.35"/><rect x="449.57" y="234.47" width="3.8" height="13.53" fill="#fff"/><path d="M449.57 242.93H453.37"/><path d="M457.28 222.64V233.69M457.28 252.17V263.22"/><rect x="455.38" y="233.69" width="3.8" height="18.49" fill="#fff"/><path d="M455.38 241.24H459.18"/><path d="M463.09 229.18V236.39M463.09 250.26V270.21"/><rect x="461.19" y="236.39" width="3.8" height="13.87" fill="#fff"/><path d="M461.19 245.75H464.99"/><path d="M468.89 227.37V239.32M468.89 255.9V266.04"/><rect x="466.99" y="239.32" width="3.8" height="16.57" fill="#fff"/><path d="M466.99 246.54H470.79"/><path d="M474.7 226.58V237.29M474.7 255.33V269.99"/><rect x="472.8" y="237.29" width="3.8" height="18.04" fill="#fff"/><path d="M472.8 247.21H476.6"/><path d="M480.51 224.33V235.6M480.51 250.82V266.61"/><rect x="478.61" y="235.6" width="3.8" height="15.22" fill="#fff"/><path d="M478.61 242.37H482.41"/><path d="M486.32 227.15V238.98M486.32 256.23V272.47"/><rect x="484.42" y="238.98" width="3.8" height="17.25" fill="#fff"/><path d="M484.42 249.69H488.22"/><path d="M492.13 226.92V240.11M492.13 252.85V271.68"/><rect x="490.23" y="240.11" width="3.8" height="12.74" fill="#fff"/><path d="M490.23 246.09H494.03"/><path d="M497.93 226.58V239.55M497.93 255.33V272.02"/><rect x="496.03" y="239.55" width="3.8" height="15.78" fill="#fff"/><path d="M496.03 248H499.83"/><path d="M503.74 228.84V245.41M503.74 259.28V274.5"/><rect x="501.84" y="245.41" width="3.8" height="13.87" fill="#fff"/><path d="M501.84 252.17H505.64"/><path d="M509.55 231.43V240.11M509.55 257.02V273.93"/><rect x="507.65" y="240.11" width="3.8" height="16.91" fill="#fff"/><path d="M507.65 249.69H511.45"/></g>
<g fill="#429a32"><circle cx="364.35" cy="236.17" r="1.35"/><circle cx="364.35" cy="242.03" r="1.35"/><circle cx="375.97" cy="249.47" r="1.35"/><circle cx="381.77" cy="246.88" r="1.35"/><circle cx="381.77" cy="260.07" r="1.35"/><circle cx="387.58" cy="248" r="1.35"/><circle cx="387.58" cy="257.02" r="1.35"/><circle cx="387.58" cy="258.71" r="1.35"/><circle cx="393.39" cy="268.3" r="1.35"/><circle cx="405.01" cy="256.46" r="1.35"/><circle cx="405.01" cy="258.49" r="1.35"/><circle cx="416.62" cy="265.48" r="1.35"/></g>
<path d="M361.5 253.3H512.4" stroke="#0c0c0c" stroke-width="1.25" stroke-dasharray="4.2 4.25" fill="none"/>
<g stroke="#429a32" stroke-width="1.2" fill="none"><path d="M519.7 219.48V219.82M519.7 224.33V229.97"/><rect x="517.8" y="219.82" width="3.8" height="4.51" fill="#fff"/><path d="M517.8 221.51H521.6"/><path d="M525.51 220.38V220.61M525.51 226.92V236.39"/><rect x="523.61" y="220.61" width="3.8" height="6.31" fill="#fff"/><path d="M523.61 223.99H527.41"/><path d="M531.32 220.61V222.41M531.32 229.4V239.55"/><rect x="529.42" y="222.41" width="3.8" height="6.99" fill="#fff"/><path d="M529.42 226.58H533.22"/><path d="M537.12 220.95V222.41M537.12 229.97V240.68"/><rect x="535.22" y="222.41" width="3.8" height="7.55" fill="#fff"/><path d="M535.22 225.79H539.02"/><path d="M542.93 220.61V222.64M542.93 232.78V247.44"/><rect x="541.03" y="222.64" width="3.8" height="10.15" fill="#fff"/><path d="M541.03 226.02H544.83"/><path d="M548.74 221.51V224.67M548.74 238.2V256.23"/><rect x="546.84" y="224.67" width="3.8" height="13.53" fill="#fff"/><path d="M546.84 227.37H550.64"/><path d="M554.55 220.95V223.76M554.55 240.45V256.23"/><rect x="552.65" y="223.76" width="3.8" height="16.69" fill="#fff"/><path d="M552.65 229.18H556.45"/><path d="M560.36 220.95V225.79M560.36 235.04V248.79"/><rect x="558.46" y="225.79" width="3.8" height="9.24" fill="#fff"/><path d="M558.46 228.27H562.26"/><path d="M566.16 221.28V225.46M566.16 237.86V256.46"/><rect x="564.26" y="225.46" width="3.8" height="12.4" fill="#fff"/><path d="M564.26 232.56H568.06"/><path d="M571.97 223.54V227.37M571.97 237.29V248.57"/><rect x="570.07" y="227.37" width="3.8" height="9.92" fill="#fff"/><path d="M570.07 232.22H573.87"/><path d="M577.78 221.51V228.84M577.78 244.28V259.62"/><rect x="575.88" y="228.84" width="3.8" height="15.45" fill="#fff"/><path d="M575.88 233.69H579.68"/><path d="M583.59 222.41V227.71M583.59 246.09V271.68"/><rect x="581.69" y="227.71" width="3.8" height="18.38" fill="#fff"/><path d="M581.69 237.07H585.49"/><path d="M589.4 223.2V230.75M589.4 246.09V259.28"/><rect x="587.5" y="230.75" width="3.8" height="15.33" fill="#fff"/><path d="M587.5 236.73H591.3"/><path d="M595.2 223.76V229.63M595.2 241.24V258.71"/><rect x="593.3" y="229.63" width="3.8" height="11.61" fill="#fff"/><path d="M593.3 234.14H597.1"/><path d="M601.01 222.41V230.53M601.01 243.16V258.15"/><rect x="599.11" y="230.53" width="3.8" height="12.63" fill="#fff"/><path d="M599.11 234.14H602.91"/><path d="M606.82 222.64V232.56M606.82 246.09V259.62"/><rect x="604.92" y="232.56" width="3.8" height="13.53" fill="#fff"/><path d="M604.92 239.55H608.72"/><path d="M612.63 222.64V231.66M612.63 249.92V262.1"/><rect x="610.73" y="231.66" width="3.8" height="18.26" fill="#fff"/><path d="M610.73 239.55H614.53"/><path d="M618.44 228.27V235.94M618.44 246.88V259.62"/><rect x="616.54" y="235.94" width="3.8" height="10.94" fill="#fff"/><path d="M616.54 241.24H620.34"/><path d="M624.24 227.15V235.6M624.24 252.85V260.4"/><rect x="622.34" y="235.6" width="3.8" height="17.25" fill="#fff"/><path d="M622.34 243.49H626.14"/><path d="M630.05 223.99V236.39M630.05 253.3V264.35"/><rect x="628.15" y="236.39" width="3.8" height="16.91" fill="#fff"/><path d="M628.15 244.06H631.95"/><path d="M635.86 224.67V232.78M635.86 246.88V264.58"/><rect x="633.96" y="232.78" width="3.8" height="14.09" fill="#fff"/><path d="M633.96 241.24H637.76"/><path d="M641.67 227.37V236.17M641.67 255.11V266.83"/><rect x="639.77" y="236.17" width="3.8" height="18.94" fill="#fff"/><path d="M639.77 247.21H643.57"/><path d="M647.48 228.05V238.2M647.48 252.85V266.38"/><rect x="645.58" y="238.2" width="3.8" height="14.66" fill="#fff"/><path d="M645.58 242.7H649.38"/><path d="M653.28 225.46V238.42M653.28 252.85V269.42"/><rect x="651.38" y="238.42" width="3.8" height="14.43" fill="#fff"/><path d="M651.38 247.21H655.18"/><path d="M659.09 228.05V243.83M659.09 255.9V270.55"/><rect x="657.19" y="243.83" width="3.8" height="12.06" fill="#fff"/><path d="M657.19 250.26H660.99"/><path d="M664.9 232.22V240.11M664.9 257.02V269.99"/><rect x="663" y="240.11" width="3.8" height="16.91" fill="#fff"/><path d="M663 248.34H666.8"/></g>
<g fill="#429a32"><circle cx="519.7" cy="231.43" r="1.35"/><circle cx="519.7" cy="242.03" r="1.35"/><circle cx="525.51" cy="255.9" r="1.35"/><circle cx="531.32" cy="240.9" r="1.35"/><circle cx="531.32" cy="244.06" r="1.35"/><circle cx="531.32" cy="247.21" r="1.35"/><circle cx="537.12" cy="243.49" r="1.35"/><circle cx="537.12" cy="264.58" r="1.35"/><circle cx="542.93" cy="249.69" r="1.35"/><circle cx="542.93" cy="257.59" r="1.35"/><circle cx="566.16" cy="258.94" r="1.35"/><circle cx="571.97" cy="260.97" r="1.35"/><circle cx="577.78" cy="272.81" r="1.35"/><circle cx="595.2" cy="266.27" r="1.35"/><circle cx="601.01" cy="263.22" r="1.35"/><circle cx="618.44" cy="264.91" r="1.35"/></g>
<path d="M516.85 253.3H667.75" stroke="#0c0c0c" stroke-width="1.25" stroke-dasharray="4.2 4.25" fill="none"/>
<path d="M50.8 17V79.8" stroke="#1a1a1a" stroke-width="1.1"/>
<path d="M47.8 19.9H50.8" stroke="#1a1a1a" stroke-width="1.1"/>
<text class="t0" x="46.0" y="22.75" text-anchor="end" font-size="7.7" font-weight="bold" textLength="13.2" lengthAdjust="spacingAndGlyphs">100</text>
<path d="M47.8 36.7H50.8" stroke="#1a1a1a" stroke-width="1.1"/>
<text class="t0" x="46.0" y="39.55" text-anchor="end" font-size="7.7" font-weight="bold" textLength="8.2" lengthAdjust="spacingAndGlyphs">75</text>
<path d="M47.8 53.5H50.8" stroke="#1a1a1a" stroke-width="1.1"/>
<text class="t0" x="46.0" y="56.35" text-anchor="end" font-size="7.7" font-weight="bold" textLength="8.2" lengthAdjust="spacingAndGlyphs">50</text>
<path d="M47.8 70.3H50.8" stroke="#1a1a1a" stroke-width="1.1"/>
<text class="t0" x="46.0" y="73.15" text-anchor="end" font-size="7.7" font-weight="bold" textLength="8.2" lengthAdjust="spacingAndGlyphs">25</text>
<path d="M50.8 83.6V146.4" stroke="#1a1a1a" stroke-width="1.1"/>
<path d="M47.8 86.5H50.8" stroke="#1a1a1a" stroke-width="1.1"/>
<text class="t0" x="46.0" y="89.35" text-anchor="end" font-size="7.7" font-weight="bold" textLength="13.2" lengthAdjust="spacingAndGlyphs">100</text>
<path d="M47.8 103.3H50.8" stroke="#1a1a1a" stroke-width="1.1"/>
<text class="t0" x="46.0" y="106.15" text-anchor="end" font-size="7.7" font-weight="bold" textLength="8.2" lengthAdjust="spacingAndGlyphs">75</text>
<path d="M47.8 120.1H50.8" stroke="#1a1a1a" stroke-width="1.1"/>
<text class="t0" x="46.0" y="122.95" text-anchor="end" font-size="7.7" font-weight="bold" textLength="8.2" lengthAdjust="spacingAndGlyphs">50</text>
<path d="M47.8 136.9H50.8" stroke="#1a1a1a" stroke-width="1.1"/>
<text class="t0" x="46.0" y="139.75" text-anchor="end" font-size="7.7" font-weight="bold" textLength="8.2" lengthAdjust="spacingAndGlyphs">25</text>
<path d="M50.8 150.2V213" stroke="#1a1a1a" stroke-width="1.1"/>
<path d="M47.8 153.1H50.8" stroke="#1a1a1a" stroke-width="1.1"/>
<text class="t0" x="46.0" y="155.95" text-anchor="end" font-size="7.7" font-weight="bold" textLength="13.2" lengthAdjust="spacingAndGlyphs">100</text>
<path d="M47.8 169.9H50.8" stroke="#1a1a1a" stroke-width="1.1"/>
<text class="t0" x="46.0" y="172.75" text-anchor="end" font-size="7.7" font-weight="bold" textLength="8.2" lengthAdjust="spacingAndGlyphs">75</text>
<path d="M47.8 186.7H50.8" stroke="#1a1a1a" stroke-width="1.1"/>
<text class="t0" x="46.0" y="189.55" text-anchor="end" font-size="7.7" font-weight="bold" textLength="8.2" lengthAdjust="spacingAndGlyphs">50</text>
<path d="M47.8 203.5H50.8" stroke="#1a1a1a" stroke-width="1.1"/>
<text class="t0" x="46.0" y="206.35" text-anchor="end" font-size="7.7" font-weight="bold" textLength="8.2" lengthAdjust="spacingAndGlyphs">25</text>
<path d="M50.8 216.8V279.6" stroke="#1a1a1a" stroke-width="1.1"/>
<path d="M47.8 219.7H50.8" stroke="#1a1a1a" stroke-width="1.1"/>
<text class="t0" x="46.0" y="222.55" text-anchor="end" font-size="7.7" font-weight="bold" textLength="13.2" lengthAdjust="spacingAndGlyphs">100</text>
<path d="M47.8 236.5H50.8" stroke="#1a1a1a" stroke-width="1.1"/>
<text class="t0" x="46.0" y="239.35" text-anchor="end" font-size="7.7" font-weight="bold" textLength="8.2" lengthAdjust="spacingAndGlyphs">75</text>
<path d="M47.8 253.3H50.8" stroke="#1a1a1a" stroke-width="1.1"/>
<text class="t0" x="46.0" y="256.15" text-anchor="end" font-size="7.7" font-weight="bold" textLength="8.2" lengthAdjust="spacingAndGlyphs">50</text>
<path d="M47.8 270.1H50.8" stroke="#1a1a1a" stroke-width="1.1"/>
<text class="t0" x="46.0" y="272.95" text-anchor="end" font-size="7.7" font-weight="bold" textLength="8.2" lengthAdjust="spacingAndGlyphs">25</text>
<path d="M50.3 279.45H201.7" stroke="#1a1a1a" stroke-width="1.1"/>
<path d="M53.65 279.6v2.4" stroke="#222" stroke-width="0.8"/>
<text x="53.65" class="t0" y="287.95" text-anchor="middle" font-size="6.7" font-weight="bold" textLength="3.55" lengthAdjust="spacingAndGlyphs">3</text>
<path d="M59.46 279.6v2.4" stroke="#222" stroke-width="0.8"/>
<text x="59.46" class="t0" y="287.95" text-anchor="middle" font-size="6.7" font-weight="bold" textLength="3.55" lengthAdjust="spacingAndGlyphs">4</text>
<path d="M65.27 279.6v2.4" stroke="#222" stroke-width="0.8"/>
<text x="65.27" class="t0" y="287.95" text-anchor="middle" font-size="6.7" font-weight="bold" textLength="3.55" lengthAdjust="spacingAndGlyphs">5</text>
<path d="M71.07 279.6v2.4" stroke="#222" stroke-width="0.8"/>
<text x="71.07" class="t0" y="287.95" text-anchor="middle" font-size="6.7" font-weight="bold" textLength="3.55" lengthAdjust="spacingAndGlyphs">6</text>
<path d="M76.88 279.6v2.4" stroke="#222" stroke-width="0.8"/>
<text x="76.88" class="t0" y="287.95" text-anchor="middle" font-size="6.7" font-weight="bold" textLength="3.55" lengthAdjust="spacingAndGlyphs">7</text>
<path d="M82.69 279.6v2.4" stroke="#222" stroke-width="0.8"/>
<text x="82.69" class="t0" y="287.95" text-anchor="middle" font-size="6.7" font-weight="bold" textLength="3.55" lengthAdjust="spacingAndGlyphs">8</text>
<path d="M88.5 279.6v2.4" stroke="#222" stroke-width="0.8"/>
<path d="M94.31 279.6v2.4" stroke="#222" stroke-width="0.8"/>
<text x="94.31" class="t0" y="287.95" text-anchor="middle" font-size="6.7" font-weight="bold" textLength="7.1" lengthAdjust="spacingAndGlyphs">10</text>
<path d="M100.11 279.6v2.4" stroke="#222" stroke-width="0.8"/>
<path d="M105.92 279.6v2.4" stroke="#222" stroke-width="0.8"/>
<text x="105.92" class="t0" y="287.95" text-anchor="middle" font-size="6.7" font-weight="bold" textLength="7.1" lengthAdjust="spacingAndGlyphs">12</text>
<path d="M111.73 279.6v2.4" stroke="#222" stroke-width="0.8"/>
<path d="M117.54 279.6v2.4" stroke="#222" stroke-width="0.8"/>
<text x="117.54" class="t0" y="287.95" text-anchor="middle" font-size="6.7" font-weight="bold" textLength="7.1" lengthAdjust="spacingAndGlyphs">14</text>
<path d="M123.35 279.6v2.4" stroke="#222" stroke-width="0.8"/>
<path d="M129.15 279.6v2.4" stroke="#222" stroke-width="0.8"/>
<text x="129.15" class="t0" y="287.95" text-anchor="middle" font-size="6.7" font-weight="bold" textLength="7.1" lengthAdjust="spacingAndGlyphs">16</text>
<path d="M134.96 279.6v2.4" stroke="#222" stroke-width="0.8"/>
<path d="M140.77 279.6v2.4" stroke="#222" stroke-width="0.8"/>
<text x="140.77" class="t0" y="287.95" text-anchor="middle" font-size="6.7" font-weight="bold" textLength="7.1" lengthAdjust="spacingAndGlyphs">18</text>
<path d="M146.58 279.6v2.4" stroke="#222" stroke-width="0.8"/>
<path d="M152.39 279.6v2.4" stroke="#222" stroke-width="0.8"/>
<text x="152.39" class="t0" y="287.95" text-anchor="middle" font-size="6.7" font-weight="bold" textLength="7.1" lengthAdjust="spacingAndGlyphs">20</text>
<path d="M158.19 279.6v2.4" stroke="#222" stroke-width="0.8"/>
<path d="M164 279.6v2.4" stroke="#222" stroke-width="0.8"/>
<text x="164" class="t0" y="287.95" text-anchor="middle" font-size="6.7" font-weight="bold" textLength="7.1" lengthAdjust="spacingAndGlyphs">22</text>
<path d="M169.81 279.6v2.4" stroke="#222" stroke-width="0.8"/>
<path d="M175.62 279.6v2.4" stroke="#222" stroke-width="0.8"/>
<text x="175.62" class="t0" y="287.95" text-anchor="middle" font-size="6.7" font-weight="bold" textLength="7.1" lengthAdjust="spacingAndGlyphs">24</text>
<path d="M181.43 279.6v2.4" stroke="#222" stroke-width="0.8"/>
<path d="M187.23 279.6v2.4" stroke="#222" stroke-width="0.8"/>
<text x="187.23" class="t0" y="287.95" text-anchor="middle" font-size="6.7" font-weight="bold" textLength="7.1" lengthAdjust="spacingAndGlyphs">26</text>
<path d="M193.04 279.6v2.4" stroke="#222" stroke-width="0.8"/>
<path d="M198.85 279.6v2.4" stroke="#222" stroke-width="0.8"/>
<text x="198.85" class="t0" y="287.95" text-anchor="middle" font-size="6.7" font-weight="bold" textLength="7.1" lengthAdjust="spacingAndGlyphs">28</text>
<path d="M205.65 279.45H357.05" stroke="#1a1a1a" stroke-width="1.1"/>
<path d="M209 279.6v2.4" stroke="#222" stroke-width="0.8"/>
<text x="209" class="t0" y="287.95" text-anchor="middle" font-size="6.7" font-weight="bold" textLength="3.55" lengthAdjust="spacingAndGlyphs">3</text>
<path d="M214.81 279.6v2.4" stroke="#222" stroke-width="0.8"/>
<text x="214.81" class="t0" y="287.95" text-anchor="middle" font-size="6.7" font-weight="bold" textLength="3.55" lengthAdjust="spacingAndGlyphs">4</text>
<path d="M220.62 279.6v2.4" stroke="#222" stroke-width="0.8"/>
<text x="220.62" class="t0" y="287.95" text-anchor="middle" font-size="6.7" font-weight="bold" textLength="3.55" lengthAdjust="spacingAndGlyphs">5</text>
<path d="M226.42 279.6v2.4" stroke="#222" stroke-width="0.8"/>
<text x="226.42" class="t0" y="287.95" text-anchor="middle" font-size="6.7" font-weight="bold" textLength="3.55" lengthAdjust="spacingAndGlyphs">6</text>
<path d="M232.23 279.6v2.4" stroke="#222" stroke-width="0.8"/>
<text x="232.23" class="t0" y="287.95" text-anchor="middle" font-size="6.7" font-weight="bold" textLength="3.55" lengthAdjust="spacingAndGlyphs">7</text>
<path d="M238.04 279.6v2.4" stroke="#222" stroke-width="0.8"/>
<text x="238.04" class="t0" y="287.95" text-anchor="middle" font-size="6.7" font-weight="bold" textLength="3.55" lengthAdjust="spacingAndGlyphs">8</text>
<path d="M243.85 279.6v2.4" stroke="#222" stroke-width="0.8"/>
<path d="M249.66 279.6v2.4" stroke="#222" stroke-width="0.8"/>
<text x="249.66" class="t0" y="287.95" text-anchor="middle" font-size="6.7" font-weight="bold" textLength="7.1" lengthAdjust="spacingAndGlyphs">10</text>
<path d="M255.46 279.6v2.4" stroke="#222" stroke-width="0.8"/>
<path d="M261.27 279.6v2.4" stroke="#222" stroke-width="0.8"/>
<text x="261.27" class="t0" y="287.95" text-anchor="middle" font-size="6.7" font-weight="bold" textLength="7.1" lengthAdjust="spacingAndGlyphs">12</text>
<path d="M267.08 279.6v2.4" stroke="#222" stroke-width="0.8"/>
<path d="M272.89 279.6v2.4" stroke="#222" stroke-width="0.8"/>
<text x="272.89" class="t0" y="287.95" text-anchor="middle" font-size="6.7" font-weight="bold" textLength="7.1" lengthAdjust="spacingAndGlyphs">14</text>
<path d="M278.7 279.6v2.4" stroke="#222" stroke-width="0.8"/>
<path d="M284.5 279.6v2.4" stroke="#222" stroke-width="0.8"/>
<text x="284.5" class="t0" y="287.95" text-anchor="middle" font-size="6.7" font-weight="bold" textLength="7.1" lengthAdjust="spacingAndGlyphs">16</text>
<path d="M290.31 279.6v2.4" stroke="#222" stroke-width="0.8"/>
<path d="M296.12 279.6v2.4" stroke="#222" stroke-width="0.8"/>
<text x="296.12" class="t0" y="287.95" text-anchor="middle" font-size="6.7" font-weight="bold" textLength="7.1" lengthAdjust="spacingAndGlyphs">18</text>
<path d="M301.93 279.6v2.4" stroke="#222" stroke-width="0.8"/>
<path d="M307.74 279.6v2.4" stroke="#222" stroke-width="0.8"/>
<text x="307.74" class="t0" y="287.95" text-anchor="middle" font-size="6.7" font-weight="bold" textLength="7.1" lengthAdjust="spacingAndGlyphs">20</text>
<path d="M313.54 279.6v2.4" stroke="#222" stroke-width="0.8"/>
<path d="M319.35 279.6v2.4" stroke="#222" stroke-width="0.8"/>
<text x="319.35" class="t0" y="287.95" text-anchor="middle" font-size="6.7" font-weight="bold" textLength="7.1" lengthAdjust="spacingAndGlyphs">22</text>
<path d="M325.16 279.6v2.4" stroke="#222" stroke-width="0.8"/>
<path d="M330.97 279.6v2.4" stroke="#222" stroke-width="0.8"/>
<text x="330.97" class="t0" y="287.95" text-anchor="middle" font-size="6.7" font-weight="bold" textLength="7.1" lengthAdjust="spacingAndGlyphs">24</text>
<path d="M336.78 279.6v2.4" stroke="#222" stroke-width="0.8"/>
<path d="M342.58 279.6v2.4" stroke="#222" stroke-width="0.8"/>
<text x="342.58" class="t0" y="287.95" text-anchor="middle" font-size="6.7" font-weight="bold" textLength="7.1" lengthAdjust="spacingAndGlyphs">26</text>
<path d="M348.39 279.6v2.4" stroke="#222" stroke-width="0.8"/>
<path d="M354.2 279.6v2.4" stroke="#222" stroke-width="0.8"/>
<text x="354.2" class="t0" y="287.95" text-anchor="middle" font-size="6.7" font-weight="bold" textLength="7.1" lengthAdjust="spacingAndGlyphs">28</text>
<path d="M361 279.45H512.4" stroke="#1a1a1a" stroke-width="1.1"/>
<path d="M364.35 279.6v2.4" stroke="#222" stroke-width="0.8"/>
<text x="364.35" class="t0" y="287.95" text-anchor="middle" font-size="6.7" font-weight="bold" textLength="3.55" lengthAdjust="spacingAndGlyphs">3</text>
<path d="M370.16 279.6v2.4" stroke="#222" stroke-width="0.8"/>
<text x="370.16" class="t0" y="287.95" text-anchor="middle" font-size="6.7" font-weight="bold" textLength="3.55" lengthAdjust="spacingAndGlyphs">4</text>
<path d="M375.97 279.6v2.4" stroke="#222" stroke-width="0.8"/>
<text x="375.97" class="t0" y="287.95" text-anchor="middle" font-size="6.7" font-weight="bold" textLength="3.55" lengthAdjust="spacingAndGlyphs">5</text>
<path d="M381.77 279.6v2.4" stroke="#222" stroke-width="0.8"/>
<text x="381.77" class="t0" y="287.95" text-anchor="middle" font-size="6.7" font-weight="bold" textLength="3.55" lengthAdjust="spacingAndGlyphs">6</text>
<path d="M387.58 279.6v2.4" stroke="#222" stroke-width="0.8"/>
<text x="387.58" class="t0" y="287.95" text-anchor="middle" font-size="6.7" font-weight="bold" textLength="3.55" lengthAdjust="spacingAndGlyphs">7</text>
<path d="M393.39 279.6v2.4" stroke="#222" stroke-width="0.8"/>
<text x="393.39" class="t0" y="287.95" text-anchor="middle" font-size="6.7" font-weight="bold" textLength="3.55" lengthAdjust="spacingAndGlyphs">8</text>
<path d="M399.2 279.6v2.4" stroke="#222" stroke-width="0.8"/>
<path d="M405.01 279.6v2.4" stroke="#222" stroke-width="0.8"/>
<text x="405.01" class="t0" y="287.95" text-anchor="middle" font-size="6.7" font-weight="bold" textLength="7.1" lengthAdjust="spacingAndGlyphs">10</text>
<path d="M410.81 279.6v2.4" stroke="#222" stroke-width="0.8"/>
<path d="M416.62 279.6v2.4" stroke="#222" stroke-width="0.8"/>
<text x="416.62" class="t0" y="287.95" text-anchor="middle" font-size="6.7" font-weight="bold" textLength="7.1" lengthAdjust="spacingAndGlyphs">12</text>
<path d="M422.43 279.6v2.4" stroke="#222" stroke-width="0.8"/>
<path d="M428.24 279.6v2.4" stroke="#222" stroke-width="0.8"/>
<text x="428.24" class="t0" y="287.95" text-anchor="middle" font-size="6.7" font-weight="bold" textLength="7.1" lengthAdjust="spacingAndGlyphs">14</text>
<path d="M434.05 279.6v2.4" stroke="#222" stroke-width="0.8"/>
<path d="M439.85 279.6v2.4" stroke="#222" stroke-width="0.8"/>
<text x="439.85" class="t0" y="287.95" text-anchor="middle" font-size="6.7" font-weight="bold" textLength="7.1" lengthAdjust="spacingAndGlyphs">16</text>
<path d="M445.66 279.6v2.4" stroke="#222" stroke-width="0.8"/>
<path d="M451.47 279.6v2.4" stroke="#222" stroke-width="0.8"/>
<text x="451.47" class="t0" y="287.95" text-anchor="middle" font-size="6.7" font-weight="bold" textLength="7.1" lengthAdjust="spacingAndGlyphs">18</text>
<path d="M457.28 279.6v2.4" stroke="#222" stroke-width="0.8"/>
<path d="M463.09 279.6v2.4" stroke="#222" stroke-width="0.8"/>
<text x="463.09" class="t0" y="287.95" text-anchor="middle" font-size="6.7" font-weight="bold" textLength="7.1" lengthAdjust="spacingAndGlyphs">20</text>
<path d="M468.89 279.6v2.4" stroke="#222" stroke-width="0.8"/>
<path d="M474.7 279.6v2.4" stroke="#222" stroke-width="0.8"/>
<text x="474.7" class="t0" y="287.95" text-anchor="middle" font-size="6.7" font-weight="bold" textLength="7.1" lengthAdjust="spacingAndGlyphs">22</text>
<path d="M480.51 279.6v2.4" stroke="#222" stroke-width="0.8"/>
<path d="M486.32 279.6v2.4" stroke="#222" stroke-width="0.8"/>
<text x="486.32" class="t0" y="287.95" text-anchor="middle" font-size="6.7" font-weight="bold" textLength="7.1" lengthAdjust="spacingAndGlyphs">24</text>
<path d="M492.13 279.6v2.4" stroke="#222" stroke-width="0.8"/>
<path d="M497.93 279.6v2.4" stroke="#222" stroke-width="0.8"/>
<text x="497.93" class="t0" y="287.95" text-anchor="middle" font-size="6.7" font-weight="bold" textLength="7.1" lengthAdjust="spacingAndGlyphs">26</text>
<path d="M503.74 279.6v2.4" stroke="#222" stroke-width="0.8"/>
<path d="M509.55 279.6v2.4" stroke="#222" stroke-width="0.8"/>
<text x="509.55" class="t0" y="287.95" text-anchor="middle" font-size="6.7" font-weight="bold" textLength="7.1" lengthAdjust="spacingAndGlyphs">28</text>
<path d="M516.35 279.45H667.75" stroke="#1a1a1a" stroke-width="1.1"/>
<path d="M519.7 279.6v2.4" stroke="#222" stroke-width="0.8"/>
<text x="519.7" class="t0" y="287.95" text-anchor="middle" font-size="6.7" font-weight="bold" textLength="3.55" lengthAdjust="spacingAndGlyphs">3</text>
<path d="M525.51 279.6v2.4" stroke="#222" stroke-width="0.8"/>
<text x="525.51" class="t0" y="287.95" text-anchor="middle" font-size="6.7" font-weight="bold" textLength="3.55" lengthAdjust="spacingAndGlyphs">4</text>
<path d="M531.32 279.6v2.4" stroke="#222" stroke-width="0.8"/>
<text x="531.32" class="t0" y="287.95" text-anchor="middle" font-size="6.7" font-weight="bold" textLength="3.55" lengthAdjust="spacingAndGlyphs">5</text>
<path d="M537.12 279.6v2.4" stroke="#222" stroke-width="0.8"/>
<text x="537.12" class="t0" y="287.95" text-anchor="middle" font-size="6.7" font-weight="bold" textLength="3.55" lengthAdjust="spacingAndGlyphs">6</text>
<path d="M542.93 279.6v2.4" stroke="#222" stroke-width="0.8"/>
<text x="542.93" class="t0" y="287.95" text-anchor="middle" font-size="6.7" font-weight="bold" textLength="3.55" lengthAdjust="spacingAndGlyphs">7</text>
<path d="M548.74 279.6v2.4" stroke="#222" stroke-width="0.8"/>
<text x="548.74" class="t0" y="287.95" text-anchor="middle" font-size="6.7" font-weight="bold" textLength="3.55" lengthAdjust="spacingAndGlyphs">8</text>
<path d="M554.55 279.6v2.4" stroke="#222" stroke-width="0.8"/>
<path d="M560.36 279.6v2.4" stroke="#222" stroke-width="0.8"/>
<text x="560.36" class="t0" y="287.95" text-anchor="middle" font-size="6.7" font-weight="bold" textLength="7.1" lengthAdjust="spacingAndGlyphs">10</text>
<path d="M566.16 279.6v2.4" stroke="#222" stroke-width="0.8"/>
<path d="M571.97 279.6v2.4" stroke="#222" stroke-width="0.8"/>
<text x="571.97" class="t0" y="287.95" text-anchor="middle" font-size="6.7" font-weight="bold" textLength="7.1" lengthAdjust="spacingAndGlyphs">12</text>
<path d="M577.78 279.6v2.4" stroke="#222" stroke-width="0.8"/>
<path d="M583.59 279.6v2.4" stroke="#222" stroke-width="0.8"/>
<text x="583.59" class="t0" y="287.95" text-anchor="middle" font-size="6.7" font-weight="bold" textLength="7.1" lengthAdjust="spacingAndGlyphs">14</text>
<path d="M589.4 279.6v2.4" stroke="#222" stroke-width="0.8"/>
<path d="M595.2 279.6v2.4" stroke="#222" stroke-width="0.8"/>
<text x="595.2" class="t0" y="287.95" text-anchor="middle" font-size="6.7" font-weight="bold" textLength="7.1" lengthAdjust="spacingAndGlyphs">16</text>
<path d="M601.01 279.6v2.4" stroke="#222" stroke-width="0.8"/>
<path d="M606.82 279.6v2.4" stroke="#222" stroke-width="0.8"/>
<text x="606.82" class="t0" y="287.95" text-anchor="middle" font-size="6.7" font-weight="bold" textLength="7.1" lengthAdjust="spacingAndGlyphs">18</text>
<path d="M612.63 279.6v2.4" stroke="#222" stroke-width="0.8"/>
<path d="M618.44 279.6v2.4" stroke="#222" stroke-width="0.8"/>
<text x="618.44" class="t0" y="287.95" text-anchor="middle" font-size="6.7" font-weight="bold" textLength="7.1" lengthAdjust="spacingAndGlyphs">20</text>
<path d="M624.24 279.6v2.4" stroke="#222" stroke-width="0.8"/>
<path d="M630.05 279.6v2.4" stroke="#222" stroke-width="0.8"/>
<text x="630.05" class="t0" y="287.95" text-anchor="middle" font-size="6.7" font-weight="bold" textLength="7.1" lengthAdjust="spacingAndGlyphs">22</text>
<path d="M635.86 279.6v2.4" stroke="#222" stroke-width="0.8"/>
<path d="M641.67 279.6v2.4" stroke="#222" stroke-width="0.8"/>
<text x="641.67" class="t0" y="287.95" text-anchor="middle" font-size="6.7" font-weight="bold" textLength="7.1" lengthAdjust="spacingAndGlyphs">24</text>
<path d="M647.48 279.6v2.4" stroke="#222" stroke-width="0.8"/>
<path d="M653.28 279.6v2.4" stroke="#222" stroke-width="0.8"/>
<text x="653.28" class="t0" y="287.95" text-anchor="middle" font-size="6.7" font-weight="bold" textLength="7.1" lengthAdjust="spacingAndGlyphs">26</text>
<path d="M659.09 279.6v2.4" stroke="#222" stroke-width="0.8"/>
<path d="M664.9 279.6v2.4" stroke="#222" stroke-width="0.8"/>
<text x="664.9" class="t0" y="287.95" text-anchor="middle" font-size="6.7" font-weight="bold" textLength="7.1" lengthAdjust="spacingAndGlyphs">28</text>
<text x="359.2" y="297.8" text-anchor="middle" font-size="10.0" font-weight="bold" textLength="64.8" lengthAdjust="spacingAndGlyphs">Sample Size</text>
<text transform="translate(16.2,148.4) rotate(-90)" text-anchor="middle" font-size="10.2" font-weight="bold" textLength="215.5" lengthAdjust="spacingAndGlyphs">% of signature genes with fold change</text>
<text transform="translate(28.1,148.7) rotate(-90)" text-anchor="middle" font-size="10.2" font-weight="bold" textLength="177.5" lengthAdjust="spacingAndGlyphs">greater than in N30 experiment</text>
<text class="t2" x="1.3" y="28.7" font-size="21.4" font-weight="bold" textLength="13.6" lengthAdjust="spacingAndGlyphs">A</text>
<text class="t2" x="2.2" y="337.0" font-size="21.4" font-weight="bold" textLength="12.9" lengthAdjust="spacingAndGlyphs">B</text>
<rect x="105.7" y="329.2" width="357.3" height="185.6" fill="#ebecec"/>
<path d="M105.7 426.1H463.0" stroke="#111" stroke-width="1.7"/>
<g stroke="#ec6a68" stroke-width="1.9" fill="none"><path d="M111.05 338.2V396.4M111.05 443.7V484.9"/><rect x="108.75" y="396.4" width="4.6" height="47.3" fill="#fff"/><path d="M108.75 430.5H113.35"/></g>
<g stroke="#ec6a68" stroke-width="1.9" fill="none"><path d="M124.71 383.3V409.6M124.71 435.8V453.3"/><rect x="122.41" y="409.6" width="4.6" height="26.2" fill="#fff"/><path d="M122.41 419.2H127.01"/></g>
<g stroke="#ec6a68" stroke-width="1.9" fill="none"><path d="M138.38 365.7V385.5M138.38 418.4V430.5"/><rect x="136.08" y="385.5" width="4.6" height="32.9" fill="#fff"/><path d="M136.08 408.7H140.68"/></g>
<g stroke="#ec6a68" stroke-width="1.9" fill="none"><path d="M152.04 378.5V390.3M152.04 416.6V422.7"/><rect x="149.74" y="390.3" width="4.6" height="26.3" fill="#fff"/><path d="M149.74 398.2H154.34"/></g>
<g stroke="#ec6a68" stroke-width="1.9" fill="none"><path d="M165.71 393.3V393.3M165.71 397.6V397.6"/><rect x="163.41" y="393.3" width="4.6" height="4.3" fill="#fff"/><path d="M163.41 395.5H168.01"/></g>
<g stroke="#ec6a68" stroke-width="1.9" fill="none"><path d="M179.37 374.5V378M179.37 387.1V389.8"/><rect x="177.07" y="378" width="4.6" height="9.1" fill="#fff"/><path d="M177.07 382.7H181.67"/></g>
<g stroke="#52d0c5" stroke-width="1.9" fill="none"><path d="M116.2 480.5V481M116.2 497.2V507.1"/><rect x="113.9" y="481" width="4.6" height="16.2" fill="#fff"/><path d="M113.9 482.2H118.5"/></g>
<g stroke="#52d0c5" stroke-width="1.9" fill="none"><path d="M129.86 428.8V442.5M129.86 471.9V499.8"/><rect x="127.56" y="442.5" width="4.6" height="29.4" fill="#fff"/><path d="M127.56 456.8H132.16"/></g>
<g stroke="#52d0c5" stroke-width="1.9" fill="none"><path d="M143.53 417.1V436.3M143.53 469.5V488.8"/><rect x="141.23" y="436.3" width="4.6" height="33.2" fill="#fff"/><path d="M141.23 446.3H145.83"/></g>
<g stroke="#52d0c5" stroke-width="1.9" fill="none"><path d="M157.19 400.3V426.1M157.19 453.9V491.9"/><rect x="154.89" y="426.1" width="4.6" height="27.8" fill="#fff"/><path d="M154.89 437.5H159.49"/></g>
<g stroke="#52d0c5" stroke-width="1.9" fill="none"><path d="M170.86 403.4V426.1M170.86 449.5V470"/><rect x="168.56" y="426.1" width="4.6" height="23.4" fill="#fff"/><path d="M168.56 435.8H173.16"/></g>
<g stroke="#52d0c5" stroke-width="1.9" fill="none"><path d="M184.52 394.7V420.1M184.52 438.9V461.8"/><rect x="182.22" y="420.1" width="4.6" height="18.8" fill="#fff"/><path d="M182.22 427.9H186.82"/></g>
<g stroke="#52d0c5" stroke-width="1.9" fill="none"><path d="M195.63 389.4V412.2M195.63 447.2V474.7"/><rect x="191.33" y="412.2" width="8.6" height="35" fill="#fff"/><path d="M191.33 430.5H199.93"/></g>
<g stroke="#52d0c5" stroke-width="1.9" fill="none"><path d="M209.3 390.4V414M209.3 436.5V459.4"/><rect x="205" y="414" width="8.6" height="22.5" fill="#fff"/><path d="M205 421.3H213.6"/></g>
<g stroke="#52d0c5" stroke-width="1.9" fill="none"><path d="M222.96 383.9V410.9M222.96 438.5V475.5"/><rect x="218.66" y="410.9" width="8.6" height="27.6" fill="#fff"/><path d="M218.66 423.9H227.26"/></g>
<g stroke="#52d0c5" stroke-width="1.9" fill="none"><path d="M236.63 400.2V415.4M236.63 435.7V462.7"/><rect x="232.33" y="415.4" width="8.6" height="20.3" fill="#fff"/><path d="M232.33 421.9H240.93"/></g>
<g stroke="#52d0c5" stroke-width="1.9" fill="none"><path d="M250.29 406.9V412.4M250.29 436.1V452.5"/><rect x="245.99" y="412.4" width="8.6" height="23.7" fill="#fff"/><path d="M245.99 425.8H254.59"/></g>
<g stroke="#52d0c5" stroke-width="1.9" fill="none"><path d="M263.95 409.5V419.3M263.95 438.5V455.4"/><rect x="259.65" y="419.3" width="8.6" height="19.2" fill="#fff"/><path d="M259.65 427.2H268.25"/></g>
<g stroke="#52d0c5" stroke-width="1.9" fill="none"><path d="M277.62 404.6V419.9M277.62 439.6V453.2"/><rect x="273.32" y="419.9" width="8.6" height="19.7" fill="#fff"/><path d="M273.32 428.2H281.92"/></g>
<g stroke="#52d0c5" stroke-width="1.9" fill="none"><path d="M291.28 401.2V420.3M291.28 438.1V447.9"/><rect x="286.98" y="420.3" width="8.6" height="17.8" fill="#fff"/><path d="M286.98 427.2H295.58"/></g>
<g stroke="#52d0c5" stroke-width="1.9" fill="none"><path d="M304.95 413.8V421.3M304.95 435.1V443.6"/><rect x="300.65" y="421.3" width="8.6" height="13.8" fill="#fff"/><path d="M300.65 429.2H309.25"/></g>
<g stroke="#52d0c5" stroke-width="1.9" fill="none"><path d="M318.61 411.1V422.3M318.61 435.1V447.3"/><rect x="314.31" y="422.3" width="8.6" height="12.8" fill="#fff"/><path d="M314.31 427.2H322.91"/></g>
<g stroke="#52d0c5" stroke-width="1.9" fill="none"><path d="M332.27 411.1V421.3M332.27 438.1V442.4"/><rect x="327.97" y="421.3" width="8.6" height="16.8" fill="#fff"/><path d="M327.97 431.6H336.57"/></g>
<g stroke="#52d0c5" stroke-width="1.9" fill="none"><path d="M345.94 414V421.3M345.94 434.7V446.3"/><rect x="341.64" y="421.3" width="8.6" height="13.4" fill="#fff"/><path d="M341.64 427.8H350.24"/></g>
<g stroke="#52d0c5" stroke-width="1.9" fill="none"><path d="M359.6 409.5V421.9M359.6 433.1V445"/><rect x="355.3" y="421.9" width="8.6" height="11.2" fill="#fff"/><path d="M355.3 428.6H363.9"/></g>
<g stroke="#52d0c5" stroke-width="1.9" fill="none"><path d="M373.27 413.4V423.3M373.27 432.7V441.4"/><rect x="368.97" y="423.3" width="8.6" height="9.4" fill="#fff"/><path d="M368.97 427.8H377.57"/></g>
<g stroke="#52d0c5" stroke-width="1.9" fill="none"><path d="M386.93 409.5V422.7M386.93 433.7V443"/><rect x="382.63" y="422.7" width="8.6" height="11" fill="#fff"/><path d="M382.63 428.2H391.23"/></g>
<g stroke="#52d0c5" stroke-width="1.9" fill="none"><path d="M400.59 418.4V424.7M400.59 431.2V438.1"/><rect x="396.29" y="424.7" width="8.6" height="6.5" fill="#fff"/><path d="M396.29 427.8H404.89"/></g>
<g stroke="#52d0c5" stroke-width="1.9" fill="none"><path d="M414.26 419.3V425.8M414.26 433.1V440.4"/><rect x="409.96" y="425.8" width="8.6" height="7.3" fill="#fff"/><path d="M409.96 429.2H418.56"/></g>
<g stroke="#52d0c5" stroke-width="1.9" fill="none"><path d="M427.92 421.3V426.2M427.92 432.5V437.7"/><rect x="423.62" y="426.2" width="8.6" height="6.3" fill="#fff"/><path d="M423.62 428.6H432.22"/></g>
<g stroke="#52d0c5" stroke-width="1.9" fill="none"><path d="M441.59 422.3V426.2M441.59 431.8V433.5"/><rect x="437.29" y="426.2" width="8.6" height="5.6" fill="#fff"/><path d="M437.29 428.8H445.89"/></g>
<g stroke="#52d0c5" stroke-width="1.9" fill="none"><path d="M455.25 424.7V426.2M455.25 430.8V432.7"/><rect x="450.95" y="426.2" width="8.6" height="4.6" fill="#fff"/><path d="M450.95 428.2H459.55"/></g>
<circle cx="165.71" cy="403.4" r="2.55" fill="#ec6a68"/>
<circle cx="116.2" cy="454.2" r="2.55" fill="#52d0c5"/>
<circle cx="157.19" cy="506.8" r="2.55" fill="#52d0c5"/>
<circle cx="170.86" cy="489.0" r="2.55" fill="#52d0c5"/>
<circle cx="184.52" cy="467.0" r="2.55" fill="#52d0c5"/>
<circle cx="184.52" cy="472.6" r="2.55" fill="#52d0c5"/>
<circle cx="184.52" cy="483.5" r="2.55" fill="#52d0c5"/>
<circle cx="345.94" cy="398.3" r="2.55" fill="#52d0c5"/>
<circle cx="400.59" cy="415.8" r="2.55" fill="#52d0c5"/>
<circle cx="400.59" cy="444.0" r="2.55" fill="#52d0c5"/>
<path d="M105.15 329.2V515.0H463.0" stroke="#0a0a0a" stroke-width="1.85" fill="none" stroke-linejoin="round"/>
<path d="M101.3 372.3H105.7" stroke="#111" stroke-width="1.6"/>
<text class="t2" x="97.3" y="377.4" text-anchor="end" font-size="14.2" font-weight="bold" textLength="42.2" lengthAdjust="spacingAndGlyphs">-0.25</text>
<path d="M101.3 422.8H105.7" stroke="#111" stroke-width="1.6"/>
<text class="t2" x="97.3" y="427.9" text-anchor="end" font-size="14.2" font-weight="bold" textLength="42.2" lengthAdjust="spacingAndGlyphs">-0.50</text>
<path d="M101.3 473.4H105.7" stroke="#111" stroke-width="1.6"/>
<text class="t2" x="97.3" y="478.5" text-anchor="end" font-size="14.2" font-weight="bold" textLength="42.2" lengthAdjust="spacingAndGlyphs">-0.75</text>
<path d="M113.65 515.5999999999999v3.9" stroke="#111" stroke-width="1.5"/>
<text x="113.65" y="531.0" text-anchor="middle" font-size="11.2" font-weight="bold" textLength="7.0" lengthAdjust="spacingAndGlyphs">3</text>
<path d="M127.31 515.5999999999999v3.9" stroke="#111" stroke-width="1.5"/>
<text x="127.31" y="531.0" text-anchor="middle" font-size="11.2" font-weight="bold" textLength="7.0" lengthAdjust="spacingAndGlyphs">4</text>
<path d="M140.98 515.5999999999999v3.9" stroke="#111" stroke-width="1.5"/>
<text x="140.98" y="531.0" text-anchor="middle" font-size="11.2" font-weight="bold" textLength="7.0" lengthAdjust="spacingAndGlyphs">5</text>
<path d="M154.64 515.5999999999999v3.9" stroke="#111" stroke-width="1.5"/>
<text x="154.64" y="531.0" text-anchor="middle" font-size="11.2" font-weight="bold" textLength="7.0" lengthAdjust="spacingAndGlyphs">6</text>
<path d="M168.31 515.5999999999999v3.9" stroke="#111" stroke-width="1.5"/>
<text x="168.31" y="531.0" text-anchor="middle" font-size="11.2" font-weight="bold" textLength="7.0" lengthAdjust="spacingAndGlyphs">7</text>
<path d="M181.97 515.5999999999999v3.9" stroke="#111" stroke-width="1.5"/>
<text x="181.97" y="531.0" text-anchor="middle" font-size="11.2" font-weight="bold" textLength="7.0" lengthAdjust="spacingAndGlyphs">8</text>
<path d="M195.63 515.5999999999999v3.9" stroke="#111" stroke-width="1.5"/>
<path d="M209.3 515.5999999999999v3.9" stroke="#111" stroke-width="1.5"/>
<text x="209.3" y="531.0" text-anchor="middle" font-size="11.2" font-weight="bold" textLength="14.5" lengthAdjust="spacingAndGlyphs">10</text>
<path d="M222.96 515.5999999999999v3.9" stroke="#111" stroke-width="1.5"/>
<path d="M236.63 515.5999999999999v3.9" stroke="#111" stroke-width="1.5"/>
<text x="236.63" y="531.0" text-anchor="middle" font-size="11.2" font-weight="bold" textLength="14.5" lengthAdjust="spacingAndGlyphs">12</text>
<path d="M250.29 515.5999999999999v3.9" stroke="#111" stroke-width="1.5"/>
<path d="M263.95 515.5999999999999v3.9" stroke="#111" stroke-width="1.5"/>
<text x="263.95" y="531.0" text-anchor="middle" font-size="11.2" font-weight="bold" textLength="14.5" lengthAdjust="spacingAndGlyphs">14</text>
<path d="M277.62 515.5999999999999v3.9" stroke="#111" stroke-width="1.5"/>
<path d="M291.28 515.5999999999999v3.9" stroke="#111" stroke-width="1.5"/>
<text x="291.28" y="531.0" text-anchor="middle" font-size="11.2" font-weight="bold" textLength="14.5" lengthAdjust="spacingAndGlyphs">16</text>
<path d="M304.95 515.5999999999999v3.9" stroke="#111" stroke-width="1.5"/>
<path d="M318.61 515.5999999999999v3.9" stroke="#111" stroke-width="1.5"/>
<text x="318.61" y="531.0" text-anchor="middle" font-size="11.2" font-weight="bold" textLength="14.5" lengthAdjust="spacingAndGlyphs">18</text>
<path d="M332.27 515.5999999999999v3.9" stroke="#111" stroke-width="1.5"/>
<path d="M345.94 515.5999999999999v3.9" stroke="#111" stroke-width="1.5"/>
<text x="345.94" y="531.0" text-anchor="middle" font-size="11.2" font-weight="bold" textLength="14.5" lengthAdjust="spacingAndGlyphs">20</text>
<path d="M359.6 515.5999999999999v3.9" stroke="#111" stroke-width="1.5"/>
<path d="M373.27 515.5999999999999v3.9" stroke="#111" stroke-width="1.5"/>
<text x="373.27" y="531.0" text-anchor="middle" font-size="11.2" font-weight="bold" textLength="14.5" lengthAdjust="spacingAndGlyphs">22</text>
<path d="M386.93 515.5999999999999v3.9" stroke="#111" stroke-width="1.5"/>
<path d="M400.59 515.5999999999999v3.9" stroke="#111" stroke-width="1.5"/>
<text x="400.59" y="531.0" text-anchor="middle" font-size="11.2" font-weight="bold" textLength="14.5" lengthAdjust="spacingAndGlyphs">24</text>
<path d="M414.26 515.5999999999999v3.9" stroke="#111" stroke-width="1.5"/>
<path d="M427.92 515.5999999999999v3.9" stroke="#111" stroke-width="1.5"/>
<text x="427.92" y="531.0" text-anchor="middle" font-size="11.2" font-weight="bold" textLength="14.5" lengthAdjust="spacingAndGlyphs">26</text>
<path d="M441.59 515.5999999999999v3.9" stroke="#111" stroke-width="1.5"/>
<path d="M455.25 515.5999999999999v3.9" stroke="#111" stroke-width="1.5"/>
<text x="455.25" y="531.0" text-anchor="middle" font-size="11.2" font-weight="bold" textLength="14.5" lengthAdjust="spacingAndGlyphs">28</text>
<text class="t3" x="284.1" y="553.3" text-anchor="middle" font-size="20.9" font-weight="bold" textLength="138.4" lengthAdjust="spacingAndGlyphs">Sample Size</text>
<text class="t3" transform="translate(42.6,500.8) rotate(-90)" font-size="23.0" font-weight="bold" textLength="64.6" lengthAdjust="spacingAndGlyphs">Trex1</text>
<text class="t3" transform="translate(42.6,419.2) rotate(-90)" font-size="23.0" font-weight="bold" textLength="35.2" lengthAdjust="spacingAndGlyphs">log</text>
<text class="tn" transform="translate(45.6,384) rotate(-90)" font-size="16" font-weight="normal" textLength="8.2" lengthAdjust="spacingAndGlyphs">2</text>
<text class="t3" transform="translate(42.6,375.2) rotate(-90)" font-size="23.0" font-weight="bold" textLength="29.2" lengthAdjust="spacingAndGlyphs">FC</text>
<rect x="341.4" y="452.2" width="100.2" height="51.6" fill="#fff"/>
<text class="t1" x="349.8" y="469.3" font-size="10" font-weight="bold" textLength="83.2" lengthAdjust="spacingAndGlyphs">significant trial</text>
<rect x="350.2" y="474.4" width="31.8" height="21.4" fill="#f2f2f2"/>
<g stroke="#ec6a68" stroke-width="1.8" fill="#fff"><path d="M365.8 474.7v10.4"/><rect x="353.9" y="477.45" width="24.6" height="4.9"/><path d="M353.9 479.9h24.6"/></g>
<text class="t1" x="387.4" y="483.6" font-size="10" font-weight="bold" textLength="15.6" lengthAdjust="spacingAndGlyphs">NO</text>
<g stroke="#52d0c5" stroke-width="1.8" fill="#fff"><path d="M365.8 485.3v10.4"/><rect x="353.9" y="488.05" width="24.6" height="4.9"/><path d="M353.9 490.5h24.6"/></g>
<text class="t1" x="387.4" y="494.2" font-size="10" font-weight="bold" textLength="20.4" lengthAdjust="spacingAndGlyphs">YES</text>
</svg>
</body></html>
